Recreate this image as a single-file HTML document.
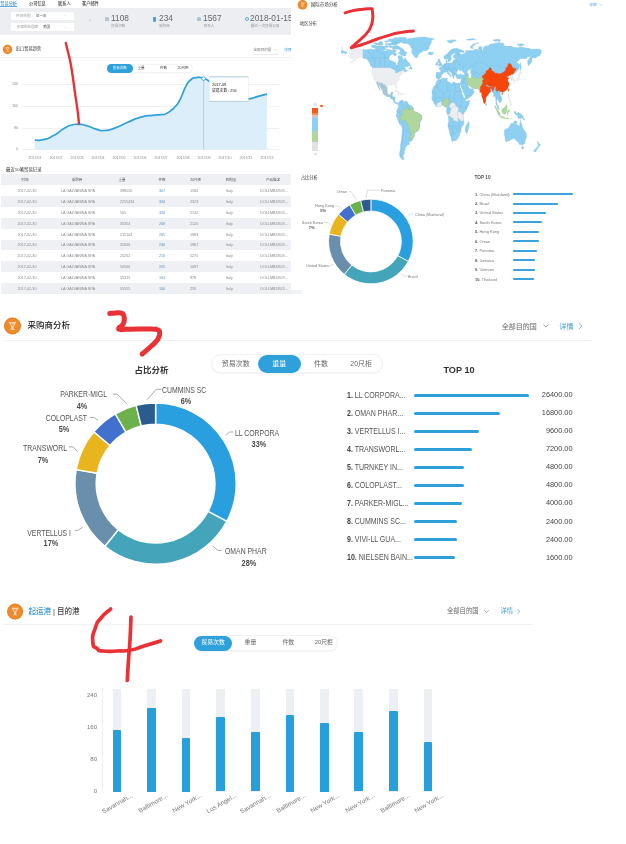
<!DOCTYPE html>
<html><head><meta charset="utf-8"><title>Trade analysis</title>
<style>
html,body{margin:0;padding:0;background:#fff;}
body{width:626px;height:844px;position:relative;overflow:hidden;font-family:'Liberation Sans','Noto Sans CJK SC',sans-serif;}
.t{position:absolute;white-space:nowrap;}
svg.ov{position:absolute;left:0;top:0;}
</style></head><body>
<div style="position:absolute;left:0.00px;top:6.20px;width:16.80px;height:1.00px;background:#5aaee0;"></div>
<div style="position:absolute;left:0.00px;top:7.60px;width:291.00px;height:27.00px;background:#eceef2;"></div>
<div style="position:absolute;left:11.20px;top:12.20px;width:62.60px;height:7.60px;background:#fff;"></div>
<div style="position:absolute;left:11.20px;top:23.40px;width:62.60px;height:7.60px;background:#fff;"></div>
<div style="position:absolute;left:104.50px;top:17.30px;width:4.50px;height:3.80px;background:#b8c4d0;border-radius:0.5px;"></div>
<div style="position:absolute;left:152.80px;top:16.60px;width:3.60px;height:5.00px;background:#3ea6dd;border-radius:0.6px 0.6px 1.8px 1.8px;"></div>
<div style="position:absolute;left:197.40px;top:16.80px;width:3.60px;height:4.40px;background:#a9c3d8;border-radius:1.8px 1.8px 0.5px 0.5px;"></div>
<div style="position:absolute;left:244.60px;top:16.50px;width:4.40px;height:4.40px;background:transparent;border:0.9px solid #5aaee0;border-radius:50%;box-sizing:border-box;"></div>
<div style="position:absolute;left:253.00px;top:53.80px;width:26.00px;height:0.50px;background:#ececec;"></div>
<div style="position:absolute;left:0.00px;top:57.20px;width:291.00px;height:0.60px;background:#eef0f3;"></div>
<div style="position:absolute;left:104.5px;top:63.6px;width:88px;height:9.6px;border-radius:5px;border:0.4px solid #f3f4f6;box-sizing:border-box;box-shadow:0 0.6px 0.8px rgba(0,0,0,0.06);"></div>
<div style="position:absolute;left:106.6px;top:64.2px;width:26.6px;height:8.5px;border-radius:4.3px;background:#2ea1db;"></div>
<div style="position:absolute;left:22.30px;top:84.00px;width:257.00px;height:0.60px;background:#f0f1f3;"></div>
<div style="position:absolute;left:22.30px;top:105.80px;width:257.00px;height:0.60px;background:#f0f1f3;"></div>
<div style="position:absolute;left:22.30px;top:127.60px;width:257.00px;height:0.60px;background:#f0f1f3;"></div>
<div style="position:absolute;left:22.30px;top:149.40px;width:257.00px;height:0.60px;background:#f0f1f3;"></div>
<div style="position:absolute;left:1.00px;top:174.40px;width:290.00px;height:10.80px;background:#eef0f4;"></div>
<div style="position:absolute;left:1.00px;top:196.07px;width:290.00px;height:10.87px;background:#eef0f4;"></div>
<div style="position:absolute;left:1.00px;top:217.81px;width:290.00px;height:10.87px;background:#eef0f4;"></div>
<div style="position:absolute;left:1.00px;top:239.55px;width:290.00px;height:10.87px;background:#eef0f4;"></div>
<div style="position:absolute;left:1.00px;top:261.29px;width:290.00px;height:10.87px;background:#eef0f4;"></div>
<div style="position:absolute;left:1.00px;top:283.03px;width:290.00px;height:10.87px;background:#eef0f4;"></div>
<div style="position:absolute;left:290.50px;top:289.60px;width:11.50px;height:4.40px;background:#f1f2f4;"></div>
<div style="position:absolute;left:312.00px;top:107.50px;width:6.20px;height:5.50px;background:#ef5a1e;"></div>
<div style="position:absolute;left:312.00px;top:113.00px;width:6.20px;height:1.50px;background:#f28a4a;"></div>
<div style="position:absolute;left:312.00px;top:114.50px;width:6.20px;height:3.50px;background:#c9c9cc;"></div>
<div style="position:absolute;left:312.00px;top:118.00px;width:6.20px;height:13.00px;background:#8ed0f1;"></div>
<div style="position:absolute;left:312.00px;top:131.00px;width:6.20px;height:10.50px;background:#afd79b;"></div>
<div style="position:absolute;left:312.00px;top:141.50px;width:6.20px;height:9.20px;background:#e2e2e5;"></div>
<div style="position:absolute;left:313.50px;top:102.50px;width:3.50px;height:3.00px;background:#dedede;border-radius:1px;"></div>
<div style="position:absolute;left:313.50px;top:152.50px;width:3.50px;height:2.50px;background:#dedede;border-radius:1px;"></div>
<div style="position:absolute;left:319.50px;top:105.00px;width:3.00px;height:2.00px;background:#ef5a1e;border-radius:1px;"></div>
<div style="position:absolute;left:512.50px;top:193.00px;width:60.20px;height:1.50px;background:#3aa3dc;border-radius:0.7px;"></div>
<div style="position:absolute;left:512.50px;top:203.00px;width:45.10px;height:1.50px;background:#3aa3dc;border-radius:0.7px;"></div>
<div style="position:absolute;left:512.50px;top:212.00px;width:33.70px;height:1.50px;background:#3aa3dc;border-radius:0.7px;"></div>
<div style="position:absolute;left:512.50px;top:221.00px;width:29.70px;height:1.50px;background:#3aa3dc;border-radius:0.7px;"></div>
<div style="position:absolute;left:512.50px;top:231.00px;width:26.30px;height:1.50px;background:#3aa3dc;border-radius:0.7px;"></div>
<div style="position:absolute;left:512.50px;top:240.00px;width:26.30px;height:1.50px;background:#3aa3dc;border-radius:0.7px;"></div>
<div style="position:absolute;left:512.50px;top:250.00px;width:24.90px;height:1.50px;background:#3aa3dc;border-radius:0.7px;"></div>
<div style="position:absolute;left:512.50px;top:259.00px;width:22.50px;height:1.50px;background:#3aa3dc;border-radius:0.7px;"></div>
<div style="position:absolute;left:512.50px;top:269.00px;width:22.50px;height:1.50px;background:#3aa3dc;border-radius:0.7px;"></div>
<div style="position:absolute;left:512.50px;top:278.00px;width:21.20px;height:1.50px;background:#3aa3dc;border-radius:0.7px;"></div>
<div style="position:absolute;left:3.00px;top:340.30px;width:588.00px;height:0.80px;background:#f0f1f4;"></div>
<div style="position:absolute;left:211px;top:353.7px;width:172px;height:19.6px;border-radius:10px;border:0.8px solid #f1f2f4;box-sizing:border-box;box-shadow:0 1px 1px rgba(0,0,0,0.05);"></div>
<div style="position:absolute;left:257.6px;top:354.5px;width:43px;height:18.4px;border-radius:9.2px;background:#2ea1db;"></div>
<div style="position:absolute;left:414.00px;top:393.50px;width:115.00px;height:3.00px;background:#2d9fd9;border-radius:1.5px;"></div>
<div style="position:absolute;left:414.00px;top:411.55px;width:86.00px;height:3.00px;background:#2d9fd9;border-radius:1.5px;"></div>
<div style="position:absolute;left:414.00px;top:429.60px;width:64.50px;height:3.00px;background:#2d9fd9;border-radius:1.5px;"></div>
<div style="position:absolute;left:414.00px;top:447.65px;width:57.50px;height:3.00px;background:#2d9fd9;border-radius:1.5px;"></div>
<div style="position:absolute;left:414.00px;top:465.70px;width:50.00px;height:3.00px;background:#2d9fd9;border-radius:1.5px;"></div>
<div style="position:absolute;left:414.00px;top:483.75px;width:50.00px;height:3.00px;background:#2d9fd9;border-radius:1.5px;"></div>
<div style="position:absolute;left:414.00px;top:501.80px;width:47.50px;height:3.00px;background:#2d9fd9;border-radius:1.5px;"></div>
<div style="position:absolute;left:414.00px;top:519.85px;width:43.00px;height:3.00px;background:#2d9fd9;border-radius:1.5px;"></div>
<div style="position:absolute;left:414.00px;top:537.90px;width:43.00px;height:3.00px;background:#2d9fd9;border-radius:1.5px;"></div>
<div style="position:absolute;left:414.00px;top:555.95px;width:41.00px;height:3.00px;background:#2d9fd9;border-radius:1.5px;"></div>
<div style="position:absolute;left:3.00px;top:624.30px;width:530.00px;height:0.80px;background:#f0f1f4;"></div>
<div style="position:absolute;left:194.4px;top:635.3px;width:144px;height:16.2px;border-radius:8px;border:0.8px solid #f1f2f4;box-sizing:border-box;box-shadow:0 1px 1px rgba(0,0,0,0.05);"></div>
<div style="position:absolute;left:194.4px;top:635.6px;width:37.4px;height:15.4px;border-radius:7.7px;background:#2ea1db;"></div>
<div style="position:absolute;left:102.00px;top:688.00px;width:0.60px;height:104.00px;background:#f0f0f0;"></div>
<div style="position:absolute;left:112.50px;top:689.00px;width:8.60px;height:102.50px;background:#eceff3;"></div>
<div style="position:absolute;left:112.50px;top:729.50px;width:8.60px;height:62.00px;background:#279fdb;border-radius:1px 1px 0 0;"></div>
<div style="position:absolute;left:147.30px;top:689.00px;width:8.60px;height:102.50px;background:#eceff3;"></div>
<div style="position:absolute;left:147.30px;top:708.00px;width:8.60px;height:83.50px;background:#279fdb;border-radius:1px 1px 0 0;"></div>
<div style="position:absolute;left:181.80px;top:689.00px;width:8.60px;height:102.50px;background:#eceff3;"></div>
<div style="position:absolute;left:181.80px;top:738.00px;width:8.60px;height:53.50px;background:#279fdb;border-radius:1px 1px 0 0;"></div>
<div style="position:absolute;left:216.30px;top:689.00px;width:8.60px;height:102.50px;background:#eceff3;"></div>
<div style="position:absolute;left:216.30px;top:717.40px;width:8.60px;height:74.10px;background:#279fdb;border-radius:1px 1px 0 0;"></div>
<div style="position:absolute;left:251.00px;top:689.00px;width:8.60px;height:102.50px;background:#eceff3;"></div>
<div style="position:absolute;left:251.00px;top:731.80px;width:8.60px;height:59.70px;background:#279fdb;border-radius:1px 1px 0 0;"></div>
<div style="position:absolute;left:285.60px;top:689.00px;width:8.60px;height:102.50px;background:#eceff3;"></div>
<div style="position:absolute;left:285.60px;top:714.50px;width:8.60px;height:77.00px;background:#279fdb;border-radius:1px 1px 0 0;"></div>
<div style="position:absolute;left:320.00px;top:689.00px;width:8.60px;height:102.50px;background:#eceff3;"></div>
<div style="position:absolute;left:320.00px;top:722.50px;width:8.60px;height:69.00px;background:#279fdb;border-radius:1px 1px 0 0;"></div>
<div style="position:absolute;left:354.20px;top:689.00px;width:8.60px;height:102.50px;background:#eceff3;"></div>
<div style="position:absolute;left:354.20px;top:731.80px;width:8.60px;height:59.70px;background:#279fdb;border-radius:1px 1px 0 0;"></div>
<div style="position:absolute;left:389.40px;top:689.00px;width:8.60px;height:102.50px;background:#eceff3;"></div>
<div style="position:absolute;left:389.40px;top:711.30px;width:8.60px;height:80.20px;background:#279fdb;border-radius:1px 1px 0 0;"></div>
<div style="position:absolute;left:423.60px;top:689.00px;width:8.60px;height:102.50px;background:#eceff3;"></div>
<div style="position:absolute;left:423.60px;top:741.70px;width:8.60px;height:49.80px;background:#279fdb;border-radius:1px 1px 0 0;"></div>
<svg class="ov" width="626" height="844" viewBox="0 0 626 844">
<polyline points="64,15.3 64.9,16.2 65.8,15.3" fill="none" stroke="#bbb" stroke-width="0.4"/>
<polyline points="64,26.6 64.9,27.5 65.8,26.6" fill="none" stroke="#bbb" stroke-width="0.4"/>
<circle cx="7.5" cy="49.4" r="4.7" fill="#ec8c2c"/>
<path d="M5.29,47.19 L9.71,47.19 L8.16,49.84 L8.16,51.06 L8.94,51.61 L6.06,51.61 L6.84,51.06 L6.84,49.84 Z" fill="#f9dcc0" opacity="0.9"/>
<path d="M6.28,47.96 L8.72,47.96 L7.50,49.51 Z" fill="#ef9a4a"/>
<circle cx="7.5" cy="49.4" r="4.37" fill="none" stroke="#e8632a" stroke-width="0.55" stroke-dasharray="0.66 0.88" opacity="0.7"/>
<polyline points="274.3,49.3 275.4,50.4 276.5,49.3" fill="none" stroke="#aaa" stroke-width="0.4"/>
<path d="M34.80,140.10 C37.53,139.97 36.87,141.13 43.00,139.70 C49.13,138.27 46.37,139.43 53.20,135.80 C60.03,132.17 57.53,132.33 63.50,128.80 C69.47,125.27 66.00,126.67 71.10,125.20 C76.20,123.73 73.67,124.27 78.80,124.40 C83.93,124.53 80.53,123.93 86.50,125.60 C92.47,127.27 90.77,127.77 96.70,129.40 C102.63,131.03 98.33,130.93 104.30,130.50 C110.27,130.07 106.93,130.77 114.60,128.10 C122.27,125.43 118.80,126.07 127.30,122.50 C135.80,118.93 131.57,119.80 140.10,117.40 C148.63,115.00 146.07,116.20 152.90,115.30 C159.73,114.40 155.90,115.40 160.60,114.70 C165.30,114.00 162.47,115.57 167.00,113.20 C171.53,110.83 170.20,111.50 174.20,107.60 C178.20,103.70 176.23,106.03 179.00,101.50 C181.77,96.97 180.27,98.97 182.50,94.00 C184.73,89.03 183.03,91.27 185.70,86.60 C188.37,81.93 187.00,83.00 190.50,80.00 C194.00,77.00 192.70,78.40 196.20,77.60 C199.70,76.80 198.53,77.27 201.00,77.60 C203.47,77.93 201.20,77.63 203.60,78.60 C206.00,79.57 204.40,77.70 208.20,80.50 C212.00,83.30 209.40,82.00 215.00,87.00 C220.60,92.00 218.33,91.40 225.00,95.50 C231.67,99.60 227.23,98.17 235.00,99.30 C242.77,100.43 240.63,99.87 248.30,98.90 C255.97,97.93 251.77,98.00 258.00,96.40 C264.23,94.80 264.00,94.87 267.00,94.10 L266.90,149.7 L34.80,149.7 Z" fill="#dbeef9"/>
<line x1="203.6" y1="79" x2="203.6" y2="149.7" stroke="#9fd0ee" stroke-width="0.9"/>
<path d="M34.80,140.10 C37.53,139.97 36.87,141.13 43.00,139.70 C49.13,138.27 46.37,139.43 53.20,135.80 C60.03,132.17 57.53,132.33 63.50,128.80 C69.47,125.27 66.00,126.67 71.10,125.20 C76.20,123.73 73.67,124.27 78.80,124.40 C83.93,124.53 80.53,123.93 86.50,125.60 C92.47,127.27 90.77,127.77 96.70,129.40 C102.63,131.03 98.33,130.93 104.30,130.50 C110.27,130.07 106.93,130.77 114.60,128.10 C122.27,125.43 118.80,126.07 127.30,122.50 C135.80,118.93 131.57,119.80 140.10,117.40 C148.63,115.00 146.07,116.20 152.90,115.30 C159.73,114.40 155.90,115.40 160.60,114.70 C165.30,114.00 162.47,115.57 167.00,113.20 C171.53,110.83 170.20,111.50 174.20,107.60 C178.20,103.70 176.23,106.03 179.00,101.50 C181.77,96.97 180.27,98.97 182.50,94.00 C184.73,89.03 183.03,91.27 185.70,86.60 C188.37,81.93 187.00,83.00 190.50,80.00 C194.00,77.00 192.70,78.40 196.20,77.60 C199.70,76.80 198.53,77.27 201.00,77.60 C203.47,77.93 201.20,77.63 203.60,78.60 C206.00,79.57 204.40,77.70 208.20,80.50 C212.00,83.30 209.40,82.00 215.00,87.00 C220.60,92.00 218.33,91.40 225.00,95.50 C231.67,99.60 227.23,98.17 235.00,99.30 C242.77,100.43 240.63,99.87 248.30,98.90 C255.97,97.93 251.77,98.00 258.00,96.40 C264.23,94.80 264.00,94.87 267.00,94.10" fill="none" stroke="#2ea1db" stroke-width="1.7"/>
<circle cx="203.6" cy="78.6" r="1.8" fill="#fff" stroke="#2ea1db" stroke-width="0.8"/>
<rect x="209.4" y="76.6" width="38.8" height="25.0" fill="#fff" stroke="#dbe7ef" stroke-width="0.5"/>
<line x1="209.2" y1="76.9" x2="248.4" y2="76.9" stroke="#a9cbe0" stroke-width="0.9"/>
<line x1="209.2" y1="101.4" x2="248.4" y2="101.4" stroke="#b5cad8" stroke-width="0.9"/>
<circle cx="302.5" cy="4.8" r="4.8" fill="#ec8c2c"/>
<path d="M300.24,2.54 L304.76,2.54 L303.18,5.25 L303.18,6.49 L303.97,7.06 L301.03,7.06 L301.82,6.49 L301.82,5.25 Z" fill="#f9dcc0" opacity="0.9"/>
<path d="M301.26,3.33 L303.74,3.33 L302.50,4.91 Z" fill="#ef9a4a"/>
<circle cx="302.5" cy="4.8" r="4.46" fill="none" stroke="#e8632a" stroke-width="0.56" stroke-dasharray="0.68 0.90" opacity="0.7"/>
<polyline points="600.3,3.9 601.4,5.0 600.3,6.1" fill="none" stroke="#8cc3e8" stroke-width="0.5"/>
<path d="M372.09,68.11 L373.15,67.58 L388.46,67.58 L388.69,67.23 L391.57,68.46 L394.40,69.79 L395.51,70.85 L395.57,72.87 L397.45,72.61 L398.84,71.82 L399.68,71.11 L401.62,71.11 L402.45,69.61 L402.89,68.99 L403.67,69.26 L403.67,70.49 L404.12,71.29 L402.45,72.26 L402.12,73.14 L402.45,73.93 L401.62,74.29 L400.29,74.99 L400.12,75.96 L399.40,76.84 L399.12,78.17 L399.40,79.49 L398.84,80.19 L397.73,80.99 L396.46,82.58 L396.07,83.90 L396.62,85.66 L396.90,87.43 L396.68,88.57 L396.23,88.49 L395.79,87.43 L395.40,86.10 L395.35,85.05 L394.68,84.34 L393.85,84.52 L393.29,83.99 L392.18,83.99 L391.63,84.16 L391.68,85.05 L391.07,85.13 L389.96,84.69 L389.13,84.60 L388.57,85.05 L387.47,86.28 L387.35,87.87 L386.36,87.43 L385.52,85.66 L384.97,84.52 L384.13,85.22 L383.30,84.69 L382.19,82.75 L381.25,83.19 L379.69,83.19 L377.59,82.13 L376.31,82.13 L375.53,80.81 L374.37,80.28 L373.65,78.61 L373.31,77.46 L372.59,75.70 L372.37,73.84 L372.20,72.87 L372.48,69.96 Z" fill="#edeef1" stroke="#d3d5da" stroke-width="0.3" stroke-linejoin="round"/>
<path d="M363.05,49.41 L359.16,48.80 L354.28,47.91 L351.39,48.88 L349.06,50.03 L350.45,51.44 L351.39,52.50 L348.89,52.94 L349.73,53.91 L351.94,53.91 L350.56,55.15 L349.73,55.67 L349.28,57.17 L351.39,58.06 L353.61,59.03 L354.17,60.08 L351.94,61.58 L350.00,62.64 L353.06,61.85 L355.27,60.08 L356.11,58.67 L357.22,58.32 L357.22,57.26 L358.61,57.88 L360.27,57.35 L361.94,57.88 L363.88,58.14 L364.99,58.94 L365.54,59.56 L366.93,59.56 L368.32,61.85 L369.15,61.67 L369.09,61.32 L368.04,60.53 L367.21,59.20 L366.10,58.06 L364.99,58.59 L364.15,57.88 L363.05,57.62 Z" fill="#edeef1" stroke="#d3d5da" stroke-width="0.3" stroke-linejoin="round"/>
<path d="M363.05,49.41 L365.82,50.03 L368.04,49.41 L370.26,48.88 L372.48,49.59 L374.70,49.59 L378.03,50.56 L381.36,50.65 L383.58,50.82 L386.91,51.00 L388.02,50.56 L388.85,49.50 L390.24,49.94 L391.91,50.38 L393.85,49.50 L395.79,50.38 L396.07,51.71 L393.68,52.15 L393.01,53.91 L391.07,54.79 L389.41,56.56 L388.80,58.76 L389.96,60.53 L392.18,60.97 L394.12,62.11 L395.62,62.20 L395.68,64.05 L396.62,65.55 L397.34,65.29 L397.57,63.17 L398.68,60.97 L398.68,59.20 L397.95,57.17 L398.29,55.76 L400.79,55.85 L402.45,57.00 L402.73,58.94 L403.84,59.38 L405.23,57.70 L405.78,59.20 L406.89,60.53 L407.72,61.85 L409.39,62.91 L410.33,64.67 L409.61,65.47 L408.00,66.52 L405.78,66.52 L404.39,67.05 L403.28,67.85 L402.12,69.17 L403.00,68.29 L405.23,67.41 L405.61,68.02 L404.95,68.64 L405.45,69.70 L406.89,70.40 L407.44,70.85 L408.00,70.32 L406.06,71.55 L404.78,72.34 L404.56,71.46 L405.50,70.85 L404.56,70.93 L403.67,70.49 L403.67,69.26 L402.89,68.99 L402.45,69.61 L401.62,71.11 L399.68,71.11 L398.84,71.82 L397.34,72.43 L397.45,72.61 L395.57,72.87 L395.51,70.85 L394.40,69.79 L391.57,68.46 L388.69,67.23 L388.46,67.58 L373.15,67.58 L372.76,68.11 L371.93,66.70 L370.54,65.82 L370.26,64.50 L369.15,62.55 L369.15,61.67 L369.09,61.32 L368.04,60.53 L367.21,59.20 L366.10,58.06 L364.99,58.59 L364.15,57.88 L363.05,57.62 Z" fill="#8ed0f1" stroke="#77b6d9" stroke-width="0.3" stroke-linejoin="round"/>
<path d="M408.39,68.82 L410.22,66.96 L410.50,65.29 L411.61,67.23 L412.05,68.91 L411.61,69.61 L410.22,68.82 Z" fill="#8ed0f1" stroke="#77b6d9" stroke-width="0.3" stroke-linejoin="round"/>
<path d="M405.50,55.67 L404.67,56.12 L401.89,55.41 L399.95,53.91 L398.29,53.29 L400.79,50.65 L398.56,49.24 L395.79,49.24 L394.12,49.15 L391.63,48.18 L391.35,46.85 L393.85,45.97 L396.62,45.80 L399.12,46.85 L401.62,48.18 L403.84,49.50 L404.39,51.71 L406.89,52.06 Z" fill="#8ed0f1" stroke="#77b6d9" stroke-width="0.3" stroke-linejoin="round"/>
<path d="M399.68,43.33 L396.90,43.59 L391.91,43.33 L391.35,41.12 L395.79,39.36 L402.45,37.77 L406.89,38.03 L405.23,39.80 L401.89,41.12 Z" fill="#8ed0f1" stroke="#77b6d9" stroke-width="0.3" stroke-linejoin="round"/>
<path d="M385.25,49.50 L382.47,50.12 L378.03,50.38 L376.09,49.68 L375.25,47.74 L376.92,46.59 L380.25,46.06 L382.47,46.24 L384.69,47.30 Z" fill="#8ed0f1" stroke="#77b6d9" stroke-width="0.3" stroke-linejoin="round"/>
<path d="M374.81,47.74 L371.93,47.38 L371.48,45.36 L374.14,45.09 L377.20,45.97 Z" fill="#8ed0f1" stroke="#77b6d9" stroke-width="0.3" stroke-linejoin="round"/>
<path d="M396.90,45.09 L390.24,45.09 L388.02,43.77 L392.46,43.06 L396.90,43.59 Z" fill="#8ed0f1" stroke="#77b6d9" stroke-width="0.3" stroke-linejoin="round"/>
<path d="M393.57,40.68 L390.80,41.74 L387.47,40.68 L389.13,39.09 L392.46,39.53 Z" fill="#8ed0f1" stroke="#77b6d9" stroke-width="0.3" stroke-linejoin="round"/>
<path d="M383.02,44.21 L380.25,45.09 L375.81,44.21 L377.48,43.33 L381.36,43.33 Z" fill="#8ed0f1" stroke="#77b6d9" stroke-width="0.3" stroke-linejoin="round"/>
<path d="M388.02,47.30 L386.36,47.74 L384.69,46.85 L385.25,45.71 L387.47,45.53 Z" fill="#8ed0f1" stroke="#77b6d9" stroke-width="0.3" stroke-linejoin="round"/>
<path d="M391.35,47.30 L389.13,47.30 L388.30,45.97 L390.24,45.53 L391.35,45.97 Z" fill="#8ed0f1" stroke="#77b6d9" stroke-width="0.3" stroke-linejoin="round"/>
<path d="M396.90,54.53 L395.24,55.94 L393.29,54.79 L393.57,53.03 L395.24,52.59 L396.35,53.65 Z" fill="#8ed0f1" stroke="#77b6d9" stroke-width="0.3" stroke-linejoin="round"/>
<path d="M377.20,43.59 L375.81,44.21 L373.31,43.50 L374.70,42.62 L376.37,42.89 Z" fill="#8ed0f1" stroke="#77b6d9" stroke-width="0.3" stroke-linejoin="round"/>
<path d="M387.47,44.65 L385.52,44.39 L385.25,43.42 L386.91,43.24 L387.74,43.77 Z" fill="#8ed0f1" stroke="#77b6d9" stroke-width="0.3" stroke-linejoin="round"/>
<path d="M389.69,45.00 L388.02,44.74 L388.02,44.12 L389.41,44.12 Z" fill="#8ed0f1" stroke="#77b6d9" stroke-width="0.3" stroke-linejoin="round"/>
<path d="M388.57,50.38 L386.08,50.12 L386.36,49.32 L388.02,49.15 Z" fill="#8ed0f1" stroke="#77b6d9" stroke-width="0.3" stroke-linejoin="round"/>
<path d="M383.02,42.44 L380.25,42.89 L378.59,42.00 L381.36,41.47 Z" fill="#8ed0f1" stroke="#77b6d9" stroke-width="0.3" stroke-linejoin="round"/>
<path d="M388.02,42.18 L385.80,42.00 L384.13,41.30 L386.36,40.68 L387.74,41.30 Z" fill="#8ed0f1" stroke="#77b6d9" stroke-width="0.3" stroke-linejoin="round"/>
<path d="M385.25,49.50 L383.02,50.21 L378.59,50.47 L376.09,49.77 L375.25,48.80 L375.81,47.74 L376.37,46.68 L378.59,46.33 L381.36,46.24 L383.02,46.06 L384.69,46.85 L385.52,48.53 Z" fill="#8ed0f1" stroke="#77b6d9" stroke-width="0.3" stroke-linejoin="round"/>
<path d="M398.56,46.85 L396.62,46.59 L396.35,45.80 L398.29,45.88 Z" fill="#8ed0f1" stroke="#77b6d9" stroke-width="0.3" stroke-linejoin="round"/>
<path d="M383.02,44.39 L380.81,45.00 L378.03,44.83 L376.09,44.21 L377.20,43.42 L380.25,43.15 L382.47,43.68 Z" fill="#8ed0f1" stroke="#77b6d9" stroke-width="0.3" stroke-linejoin="round"/>
<path d="M406.89,38.21 L401.34,37.59 L395.79,37.77 L390.80,39.18 L391.35,40.42 L393.57,41.56 L396.90,42.44 L398.01,43.33 L395.79,43.59 L391.63,43.33 L393.01,42.62 L396.90,41.30 L400.23,40.68 L403.56,39.53 Z" fill="#8ed0f1" stroke="#77b6d9" stroke-width="0.3" stroke-linejoin="round"/>
<path d="M417.16,58.06 L414.66,57.00 L413.55,55.23 L412.72,53.91 L411.61,52.15 L411.61,50.38 L413.00,49.06 L411.05,48.35 L410.78,46.85 L409.11,44.21 L406.89,43.59 L403.56,43.50 L400.79,42.00 L404.67,40.24 L408.00,38.65 L413.55,38.03 L419.10,37.24 L424.65,37.06 L430.20,38.03 L434.64,38.92 L431.31,40.24 L431.31,42.89 L430.20,44.65 L429.09,46.85 L429.09,48.62 L426.87,50.38 L423.54,50.82 L420.76,52.85 L419.10,53.47 L417.99,55.67 Z" fill="#8ed0f1" stroke="#77b6d9" stroke-width="0.3" stroke-linejoin="round"/>
<path d="M427.98,53.03 L429.09,52.24 L432.42,52.15 L433.81,53.29 L432.98,54.09 L431.31,54.88 L428.81,54.53 Z" fill="#8ed0f1" stroke="#77b6d9" stroke-width="0.3" stroke-linejoin="round"/>
<path d="M376.31,82.13 L377.59,82.13 L379.69,83.19 L381.25,83.19 L382.19,82.75 L383.30,84.69 L384.13,85.22 L384.97,84.52 L385.52,85.66 L386.36,87.43 L387.35,87.87 L387.08,89.63 L387.02,91.13 L387.35,92.72 L388.02,94.04 L388.85,94.75 L390.24,94.39 L390.80,93.87 L391.18,92.28 L393.01,91.84 L392.74,93.60 L392.29,94.48 L391.85,95.01 L390.57,95.63 L391.13,96.60 L390.13,97.31 L389.13,96.60 L387.74,96.95 L386.63,96.42 L385.25,95.36 L383.86,94.66 L382.75,92.72 L382.86,91.57 L382.19,90.25 L381.08,88.31 L379.97,86.28 L379.03,84.78 L378.47,83.28 L377.64,82.75 L378.31,84.78 L378.70,86.10 L379.42,87.87 L379.97,89.46 L380.31,90.60 L379.08,88.93 L377.92,86.46 L377.20,84.69 L376.53,83.02 Z" fill="#a6c8d6" stroke="#8fb2c2" stroke-width="0.3" stroke-linejoin="round"/>
<path d="M390.13,97.31 L391.13,96.60 L390.57,95.63 L391.85,95.01 L392.29,94.48 L392.35,96.25 L391.96,96.78 L392.74,96.78 L394.68,96.86 L395.12,97.57 L394.90,100.39 L394.90,101.19 L395.51,102.42 L396.07,102.86 L397.18,102.33 L398.29,103.21 L398.45,103.83 L398.01,104.36 L397.79,103.57 L396.90,104.36 L396.62,103.66 L395.79,103.57 L394.90,103.30 L393.74,102.07 L393.68,101.01 L392.74,99.42 L391.63,98.89 L390.52,98.45 Z" fill="#8ed0f1" stroke="#77b6d9" stroke-width="0.3" stroke-linejoin="round"/>
<path d="M394.18,91.48 L395.79,90.34 L396.90,90.43 L398.56,91.66 L400.12,92.98 L398.18,93.25 L397.73,91.84 L396.35,91.66 Z" fill="#edeef1" stroke="#d3d5da" stroke-width="0.3" stroke-linejoin="round"/>
<path d="M400.01,94.48 L400.90,93.25 L402.45,93.34 L403.34,94.39 L402.45,94.75 L401.62,95.28 Z" fill="#edeef1" stroke="#d3d5da" stroke-width="0.3" stroke-linejoin="round"/>
<path d="M397.84,94.57 L399.01,94.75 L398.68,95.10 Z" fill="#8ed0f1" stroke="#77b6d9" stroke-width="0.3" stroke-linejoin="round"/>
<path d="M398.34,103.13 L399.12,102.33 L399.40,101.36 L400.23,100.83 L401.23,100.30 L401.73,100.39 L402.45,100.04 L403.56,101.45 L404.67,101.45 L405.78,101.36 L406.95,101.36 L407.44,101.80 L408.00,103.30 L408.83,104.36 L409.67,105.51 L410.78,105.51 L411.88,105.95 L412.72,107.10 L413.55,109.21 L413.27,110.80 L414.38,111.68 L416.32,112.12 L418.27,113.36 L419.93,114.06 L421.76,115.65 L421.99,117.41 L421.60,119.18 L420.76,120.50 L419.77,122.27 L419.66,126.23 L419.27,128.00 L418.55,130.20 L417.99,131.09 L416.60,131.35 L415.22,132.41 L414.38,133.73 L414.33,135.94 L413.27,137.70 L412.16,139.91 L411.61,140.79 L410.78,141.67 L409.67,141.23 L408.89,140.96 L409.39,142.55 L409.39,144.49 L406.89,145.20 L406.72,146.52 L405.23,146.96 L405.50,148.28 L404.95,150.49 L403.84,151.81 L404.67,153.14 L403.39,155.08 L403.00,156.66 L403.39,157.55 L404.39,159.31 L403.28,159.75 L401.89,159.31 L399.95,157.10 L399.40,153.58 L399.95,151.37 L400.51,148.73 L400.40,146.08 L400.67,143.88 L401.56,139.91 L401.67,137.26 L402.17,132.85 L402.34,128.44 L402.28,126.94 L401.62,126.06 L399.56,124.29 L398.90,122.71 L398.12,120.50 L397.18,117.86 L396.23,115.92 L396.18,114.50 L396.73,113.80 L397.01,112.56 L396.40,111.68 L396.90,110.01 L397.45,109.48 L397.68,108.59 L398.29,107.45 L398.34,105.51 L398.07,104.45 L398.45,103.83 Z" fill="#8ed0f1" stroke="#77b6d9" stroke-width="0.3" stroke-linejoin="round"/>
<path d="M400.29,117.33 L400.84,119.09 L402.12,120.50 L402.73,120.41 L403.17,120.59 L405.00,120.06 L405.23,121.38 L406.06,121.83 L407.00,122.71 L407.78,123.85 L407.89,125.18 L408.89,125.18 L409.11,126.23 L409.33,126.85 L409.00,128.35 L409.17,130.29 L410.39,130.82 L410.50,131.97 L411.00,133.38 L411.39,134.70 L410.39,135.76 L409.33,137.44 L410.22,138.05 L411.61,140.52 L412.16,139.91 L413.27,137.70 L414.33,135.94 L414.38,133.73 L415.22,132.41 L416.60,131.35 L417.99,131.09 L418.55,130.20 L419.27,128.00 L419.66,126.23 L419.77,122.27 L420.76,120.50 L421.60,119.18 L421.99,117.41 L421.76,115.65 L419.93,114.06 L418.27,113.36 L416.32,112.12 L414.38,111.68 L413.27,110.80 L413.55,109.21 L412.72,107.10 L411.94,108.86 L411.05,108.77 L409.94,109.12 L408.72,109.74 L408.11,109.21 L408.00,108.59 L408.11,107.10 L407.61,106.21 L406.89,107.10 L406.34,107.36 L405.50,107.18 L405.78,108.59 L406.11,108.86 L405.56,109.57 L404.23,109.74 L403.95,109.04 L402.78,109.83 L402.73,110.98 L402.45,111.24 L402.45,114.50 L400.84,115.30 Z" fill="#afd79b" stroke="#95c183" stroke-width="0.3" stroke-linejoin="round"/>
<path d="M438.03,79.22 L440.19,79.84 L441.86,78.61 L443.24,78.34 L446.07,78.25 L447.02,77.90 L447.46,78.34 L446.96,79.67 L447.52,81.52 L448.29,81.87 L449.74,82.31 L451.57,84.08 L452.40,83.55 L452.46,82.31 L454.01,81.96 L455.23,82.93 L457.40,83.55 L458.50,82.93 L459.23,83.19 L460.28,83.19 L460.67,84.78 L459.39,84.43 L459.95,86.55 L461.00,89.63 L461.95,92.28 L462.11,94.39 L462.72,95.01 L463.11,96.78 L464.17,98.01 L465.33,99.86 L465.33,100.30 L466.05,101.63 L467.38,101.01 L469.66,100.30 L469.61,101.63 L468.77,104.80 L467.94,106.83 L466.83,109.04 L465.44,111.24 L464.33,112.39 L463.50,113.89 L463.06,115.21 L463.22,116.97 L463.11,118.30 L463.78,120.06 L463.83,123.59 L463.22,125.35 L461.84,126.50 L460.89,129.76 L461.00,131.97 L459.56,133.73 L459.34,135.94 L458.50,137.08 L457.12,139.47 L455.56,140.79 L453.79,140.79 L452.40,141.49 L451.51,140.88 L451.46,139.47 L450.85,136.38 L449.90,134.61 L449.35,131.00 L448.24,127.56 L447.85,126.06 L448.13,123.15 L448.85,121.38 L448.68,119.18 L448.13,116.18 L448.13,115.21 L447.46,114.15 L446.46,111.68 L446.57,109.92 L446.74,108.24 L446.57,107.36 L446.13,106.83 L445.19,106.92 L444.35,106.57 L443.69,105.24 L442.41,105.24 L441.02,106.13 L440.19,106.65 L439.08,106.21 L437.14,106.92 L436.19,106.21 L434.97,104.80 L433.97,103.30 L433.70,102.42 L432.98,101.19 L432.03,99.86 L431.70,97.83 L432.14,96.51 L432.31,93.95 L431.87,92.28 L432.42,89.90 L433.25,87.69 L434.09,86.28 L434.92,85.84 L435.86,84.69 L435.97,82.58 L436.58,81.34 L437.53,80.72 Z" fill="#8ed0f1" stroke="#77b6d9" stroke-width="0.3" stroke-linejoin="round"/>
<path d="M449.35,105.95 L450.18,104.19 L451.85,102.86 L453.51,102.42 L454.62,103.30 L455.73,105.07 L456.56,106.39 L458.23,107.45 L458.50,109.04 L457.95,111.68 L458.50,111.68 L460.11,111.68 L462.11,113.89 L463.06,115.21 L463.22,116.97 L463.11,118.30 L463.78,120.06 L462.39,120.94 L460.73,120.94 L459.89,119.18 L458.50,118.56 L457.40,117.86 L457.95,119.62 L457.67,121.83 L456.84,121.83 L456.29,121.12 L454.90,120.50 L453.51,120.50 L453.23,117.86 L451.85,117.86 L451.01,117.59 L450.46,116.09 L448.51,116.09 L448.13,115.21 L448.79,114.33 L450.18,113.45 L450.74,110.80 L451.01,108.15 L450.18,107.71 L449.62,107.27 Z" fill="#edeef1" stroke="#d3d5da" stroke-width="0.3" stroke-linejoin="round"/>
<path d="M436.58,104.19 L437.97,102.42 L439.63,102.16 L441.30,101.10 L441.58,104.63 L442.13,105.33 L441.02,106.13 L440.19,106.65 L439.08,106.21 L437.14,106.92 L436.58,105.95 Z" fill="#edeef1" stroke="#d3d5da" stroke-width="0.3" stroke-linejoin="round"/>
<path d="M442.80,105.16 L442.80,102.86 L443.30,101.54 L443.30,100.48 L443.63,98.89 L444.91,98.89 L446.30,99.51 L447.41,99.07 L448.24,98.80 L449.07,99.77 L449.35,101.10 L448.79,102.86 L447.96,104.45 L447.41,105.07 L446.74,106.39 L446.13,106.83 L445.19,106.92 L444.35,106.57 L443.69,105.24 Z" fill="#afd79b" stroke="#95c183" stroke-width="0.3" stroke-linejoin="round"/>
<path d="M468.66,121.38 L469.27,124.47 L468.77,126.23 L468.22,129.32 L467.44,132.67 L466.39,133.29 L465.55,131.53 L465.33,129.76 L465.89,127.12 L465.72,125.79 L467.00,124.74 L467.94,122.71 Z" fill="#8ed0f1" stroke="#77b6d9" stroke-width="0.3" stroke-linejoin="round"/>
<path d="M438.19,79.05 L436.31,78.17 L436.03,76.40 L436.42,73.76 L436.14,72.70 L436.86,72.26 L439.08,72.52 L440.30,72.52 L440.63,71.37 L440.63,70.05 L440.08,69.26 L438.80,68.55 L438.80,67.93 L440.47,67.85 L440.47,66.96 L441.41,66.96 L442.19,65.91 L442.97,65.55 L443.63,64.94 L443.96,63.97 L445.19,63.61 L446.02,63.52 L446.07,61.85 L445.80,60.88 L447.13,59.91 L447.18,61.23 L446.85,62.29 L447.57,63.00 L448.51,63.00 L449.24,63.26 L450.46,62.73 L451.85,62.82 L452.96,62.03 L453.01,60.70 L454.34,60.44 L454.84,59.29 L454.34,58.59 L456.84,58.32 L458.06,57.97 L457.40,57.62 L456.23,57.44 L454.01,57.97 L453.18,57.00 L453.23,55.67 L455.18,53.47 L455.34,53.03 L453.79,52.76 L453.12,53.91 L451.85,54.79 L451.01,55.85 L450.96,57.35 L451.73,58.32 L450.46,60.08 L450.35,60.97 L449.35,61.41 L448.40,61.94 L448.29,61.23 L447.85,59.47 L447.18,58.41 L445.74,59.56 L444.46,59.11 L444.07,57.88 L444.07,56.12 L445.74,54.79 L447.13,53.91 L448.24,52.59 L449.35,51.26 L450.18,50.38 L451.85,49.24 L454.34,48.62 L456.84,48.18 L458.50,48.88 L459.62,49.59 L461.28,49.85 L463.78,51.09 L464.17,52.15 L462.39,52.59 L460.61,51.88 L459.34,52.15 L460.45,53.91 L461.84,54.53 L463.50,53.91 L465.72,52.50 L465.72,50.47 L466.83,50.65 L470.99,50.38 L472.10,50.47 L473.93,49.94 L474.88,49.24 L477.10,49.59 L479.32,50.74 L478.49,49.50 L478.37,48.35 L479.32,46.59 L480.98,46.41 L482.09,47.47 L481.70,48.71 L482.09,50.38 L482.93,49.94 L483.76,47.03 L485.98,45.97 L489.31,45.62 L489.59,44.56 L492.92,43.77 L496.80,42.89 L499.19,42.27 L500.41,42.97 L503.46,43.33 L504.29,44.21 L503.46,45.71 L507.35,46.33 L511.23,45.97 L512.89,46.94 L514.56,47.47 L518.45,47.74 L519.83,46.68 L524.55,47.74 L525.66,48.35 L529.55,48.27 L530.38,49.32 L534.43,49.24 L535.93,48.97 L538.98,49.15 L541.20,50.03 L541.20,53.47 L540.48,53.82 L539.70,55.67 L537.32,56.47 L535.82,57.88 L533.43,57.70 L532.04,58.06 L531.76,59.64 L531.99,61.23 L531.21,62.47 L530.10,63.88 L529.27,64.50 L528.27,65.82 L527.88,64.05 L527.60,61.85 L527.82,60.08 L528.44,59.73 L530.10,57.44 L529.55,56.38 L527.88,56.56 L526.77,58.14 L525.27,58.67 L522.05,58.41 L520.22,58.76 L517.89,60.97 L516.34,62.47 L517.61,63.17 L519.28,63.88 L519.78,64.76 L519.22,66.61 L519.28,68.02 L518.17,69.70 L516.50,72.08 L515.12,73.05 L513.84,73.49 L513.17,74.81 L512.06,75.96 L513.12,78.17 L513.06,79.75 L511.51,80.46 L511.40,78.34 L511.29,77.55 L510.68,77.28 L510.51,75.70 L508.79,74.81 L508.46,76.40 L506.79,76.23 L506.57,76.84 L507.29,77.81 L509.29,77.99 L508.18,79.05 L507.46,80.11 L508.40,81.96 L508.95,82.93 L508.95,84.08 L508.73,85.66 L507.62,88.31 L506.24,89.98 L504.68,91.13 L502.91,91.93 L502.52,92.81 L502.24,91.84 L501.24,91.84 L500.52,92.54 L499.96,94.04 L500.46,95.36 L501.68,97.13 L501.96,100.22 L501.13,101.27 L500.13,102.60 L499.46,103.21 L499.58,101.98 L498.74,101.45 L498.24,100.04 L497.30,99.51 L496.86,98.89 L496.36,100.04 L496.41,102.16 L496.97,103.48 L497.08,104.63 L498.02,105.33 L498.69,106.57 L498.74,108.33 L499.13,109.57 L498.74,109.65 L497.52,108.24 L496.97,106.04 L495.86,103.57 L495.97,101.54 L495.52,96.69 L495.25,95.89 L494.25,96.86 L493.64,96.69 L493.75,93.87 L492.58,92.54 L492.36,91.48 L491.53,91.04 L490.58,91.75 L489.59,92.01 L489.31,93.16 L488.36,93.95 L486.98,96.16 L485.87,97.13 L485.81,99.33 L485.64,101.72 L484.31,103.66 L483.70,102.42 L483.20,100.22 L482.65,98.01 L482.09,96.69 L481.70,94.04 L481.65,92.28 L481.54,91.57 L480.43,92.45 L479.60,91.13 L480.32,90.60 L479.32,90.07 L478.65,89.10 L478.21,88.40 L476.82,88.49 L475.49,88.57 L473.77,88.22 L473.10,87.96 L472.66,86.90 L471.55,87.34 L470.16,86.37 L469.38,85.05 L468.27,84.34 L467.94,84.78 L468.22,86.10 L469.05,87.43 L469.44,88.93 L469.88,89.54 L469.94,87.96 L470.44,89.46 L471.55,89.37 L472.38,87.87 L472.60,88.84 L473.21,89.81 L474.49,90.95 L473.77,92.72 L473.32,94.04 L472.10,95.36 L470.27,97.04 L468.33,98.45 L466.28,99.51 L465.44,99.60 L465.05,97.57 L464.94,96.07 L464.06,93.60 L462.94,91.84 L462.67,90.07 L461.84,88.31 L460.84,86.10 L460.67,84.78 L460.28,83.19 L460.73,81.87 L461.22,80.37 L461.28,79.22 L461.39,78.52 L460.45,78.34 L459.34,78.96 L458.28,78.43 L456.95,78.43 L456.45,77.72 L456.01,76.84 L455.84,75.96 L456.06,75.26 L455.73,74.81 L454.62,74.90 L454.45,75.61 L453.84,75.26 L454.01,76.05 L454.06,77.28 L453.79,78.61 L453.34,78.34 L453.01,77.02 L452.51,75.87 L452.07,73.93 L451.57,73.31 L450.74,72.61 L449.74,71.73 L448.96,71.20 L448.90,70.58 L448.13,70.85 L448.07,71.46 L448.85,72.34 L449.35,73.58 L450.18,74.29 L451.57,75.34 L450.57,75.78 L450.79,76.40 L450.24,77.28 L450.01,75.52 L449.29,74.99 L448.24,74.11 L447.46,73.40 L446.96,72.08 L446.13,71.64 L445.46,72.17 L444.63,72.79 L443.80,72.52 L443.02,72.79 L443.08,73.84 L441.74,74.64 L441.30,75.96 L440.91,77.64 L440.13,78.43 L438.86,78.43 Z" fill="#8ed0f1" stroke="#77b6d9" stroke-width="0.3" stroke-linejoin="round"/>
<path d="M341.40,50.03 L344.18,51.26 L346.12,51.88 L347.06,52.59 L345.56,54.00 L344.18,53.03 L342.79,53.21 L341.40,53.47 Z" fill="#8ed0f1" stroke="#77b6d9" stroke-width="0.3" stroke-linejoin="round"/>
<path d="M510.34,75.43 L511.23,74.20 L512.45,74.20 L513.28,73.40 L513.84,73.49 L513.17,74.81 L512.06,75.96 L513.12,78.17 L513.06,79.75 L511.51,80.46 L511.40,78.34 L511.29,77.55 L510.68,77.28 L510.51,75.70 Z" fill="#edeef1" stroke="#d3d5da" stroke-width="0.3" stroke-linejoin="round"/>
<path d="M456.56,73.31 L456.84,72.43 L457.23,71.55 L457.78,70.85 L458.23,69.79 L458.89,69.70 L459.89,70.23 L459.34,70.76 L459.89,71.55 L461.00,71.11 L461.56,70.85 L462.11,71.11 L462.67,71.73 L463.50,72.52 L464.39,74.20 L463.50,74.64 L462.39,74.73 L461.28,74.02 L460.17,73.76 L458.50,74.46 L457.40,74.55 Z" fill="#ffffff" stroke="#d6e6ef" stroke-width="0.3" stroke-linejoin="round"/>
<path d="M467.38,71.29 L467.66,72.87 L468.27,73.93 L468.72,75.26 L468.50,77.11 L468.94,77.90 L469.88,78.34 L471.21,78.17 L471.16,76.40 L470.72,74.81 L471.55,74.64 L470.72,73.58 L470.38,73.58 L470.72,70.93 L469.61,70.85 L470.83,69.70 L469.72,69.26 L468.61,69.88 Z" fill="#ffffff" stroke="#d6e6ef" stroke-width="0.3" stroke-linejoin="round"/>
<path d="M465.72,76.05 L466.16,77.99 L466.55,79.14 L466.94,80.02 L466.55,80.81 L466.94,81.69 L467.66,82.58 L467.94,83.90 L468.27,84.34 L469.38,85.05 L470.16,86.37 L471.55,87.34 L472.66,86.90 L473.10,87.96 L473.77,88.22 L475.49,88.57 L476.82,88.49 L478.21,88.40 L478.65,89.10 L479.15,89.90 L479.48,89.72 L480.71,89.28 L480.15,86.99 L481.20,86.19 L482.09,84.43 L482.65,83.46 L483.09,82.31 L482.48,81.25 L482.65,80.11 L483.20,78.61 L482.87,77.99 L481.26,78.17 L480.71,77.55 L478.76,77.90 L477.38,77.72 L475.99,79.49 L475.27,78.52 L474.60,77.72 L472.94,77.28 L471.27,77.72 L471.21,78.17 L469.88,78.34 L468.94,77.90 L468.50,77.11 L467.94,76.84 L467.11,76.49 L466.16,75.78 Z" fill="#afd79b" stroke="#95c183" stroke-width="0.3" stroke-linejoin="round"/>
<path d="M482.09,75.96 L482.87,77.99 L483.20,78.61 L484.48,79.49 L485.03,80.81 L485.03,82.13 L485.31,83.46 L486.37,84.34 L487.92,85.49 L489.03,86.10 L490.20,86.19 L490.64,86.72 L491.08,85.93 L492.14,86.28 L492.36,86.28 L493.47,85.13 L494.58,84.87 L495.30,85.84 L495.86,86.55 L496.08,87.96 L495.52,89.63 L496.19,89.54 L496.52,90.95 L497.36,91.84 L497.80,91.04 L498.47,90.78 L499.30,90.69 L500.52,91.40 L501.24,91.84 L502.24,91.84 L502.52,92.81 L502.91,91.93 L504.68,91.13 L506.24,89.98 L507.62,88.31 L508.73,85.66 L508.95,84.08 L508.95,82.93 L508.40,81.96 L507.46,80.11 L508.18,79.05 L509.29,77.99 L507.29,77.81 L506.57,76.84 L506.79,76.23 L508.46,76.40 L508.79,74.81 L510.34,75.43 L511.23,74.20 L512.45,74.20 L513.28,73.40 L513.78,73.40 L514.12,72.70 L514.17,71.29 L515.17,71.02 L516.11,68.20 L514.00,68.64 L512.06,66.96 L511.12,64.23 L509.84,63.61 L508.34,63.79 L507.62,66.44 L506.68,67.14 L505.68,68.64 L505.40,70.67 L503.18,72.26 L503.02,72.52 L499.58,74.11 L497.24,73.23 L494.75,73.14 L494.19,71.73 L491.81,70.76 L491.58,68.91 L490.14,67.41 L489.75,67.49 L488.75,69.35 L487.09,70.67 L485.81,71.11 L485.98,72.96 L483.65,75.08 Z" fill="#f6460a" stroke="#e0420f" stroke-width="0.3" stroke-linejoin="round"/>
<path d="M501.57,93.87 L502.63,93.07 L502.91,93.51 L502.07,94.75 Z" fill="#f6460a" stroke="#e0420f" stroke-width="0.3" stroke-linejoin="round"/>
<path d="M507.96,90.51 L508.46,88.57 L508.95,88.75 L508.46,91.40 Z" fill="#f6460a" stroke="#e0420f" stroke-width="0.3" stroke-linejoin="round"/>
<path d="M479.48,89.72 L480.71,89.28 L480.15,86.99 L481.20,86.19 L482.09,84.43 L482.65,83.46 L483.09,82.31 L482.48,81.25 L482.65,80.11 L484.48,79.49 L485.03,80.81 L485.03,82.13 L485.31,83.46 L486.37,84.34 L485.70,85.40 L487.53,86.63 L490.20,87.43 L490.20,86.19 L490.64,86.72 L491.14,87.25 L492.36,87.16 L492.36,86.28 L493.47,85.13 L494.58,84.87 L495.30,85.84 L495.13,86.90 L494.14,87.34 L493.58,89.63 L493.08,90.25 L492.75,91.40 L492.47,89.90 L491.92,89.90 L492.58,88.75 L491.14,88.49 L490.69,87.52 L490.14,89.19 L490.69,91.40 L490.58,91.75 L489.59,92.01 L489.31,93.16 L488.36,93.95 L486.98,96.16 L485.87,97.13 L485.81,99.33 L485.64,101.72 L484.31,103.66 L483.70,102.42 L483.20,100.22 L482.65,98.01 L482.09,96.69 L481.70,94.04 L481.65,92.28 L481.54,91.57 L480.43,92.45 L479.60,91.13 L480.32,90.60 Z" fill="#f6460a" stroke="#e0420f" stroke-width="0.3" stroke-linejoin="round"/>
<path d="M485.59,102.16 L486.70,104.19 L486.42,105.33 L485.76,105.51 L485.53,103.57 Z" fill="#8ed0f1" stroke="#77b6d9" stroke-width="0.3" stroke-linejoin="round"/>
<path d="M438.14,66.61 L439.63,66.08 L442.08,65.64 L442.24,64.32 L441.47,63.70 L441.19,62.73 L440.41,61.76 L440.19,61.41 L439.47,61.41 L440.30,60.00 L439.36,59.11 L438.53,59.11 L437.86,60.08 L438.19,61.14 L437.97,62.11 L438.58,62.47 L439.52,62.73 L439.52,63.70 L438.75,63.79 L438.97,64.67 L438.36,65.11 L439.52,65.47 Z" fill="#8ed0f1" stroke="#77b6d9" stroke-width="0.3" stroke-linejoin="round"/>
<path d="M437.97,64.76 L437.86,63.26 L438.19,62.47 L437.14,62.03 L436.42,62.91 L435.75,63.61 L435.86,65.29 L436.86,65.20 Z" fill="#8ed0f1" stroke="#77b6d9" stroke-width="0.3" stroke-linejoin="round"/>
<path d="M513.95,80.81 L514.84,79.49 L516.50,79.40 L517.22,77.90 L518.17,77.81 L519.00,75.96 L519.00,74.46 L519.83,74.29 L520.11,75.96 L519.56,77.28 L519.44,78.61 L519.17,79.84 L518.33,80.28 L517.34,80.28 L516.50,81.25 L516.23,80.28 L514.84,80.81 Z" fill="#edeef1" stroke="#d3d5da" stroke-width="0.3" stroke-linejoin="round"/>
<path d="M519.00,74.20 L519.67,73.93 L520.83,73.76 L522.05,72.61 L521.50,71.99 L520.05,70.67 L519.89,72.43 L519.17,72.61 Z" fill="#edeef1" stroke="#d3d5da" stroke-width="0.3" stroke-linejoin="round"/>
<path d="M513.45,81.25 L514.00,80.81 L514.56,81.69 L514.06,83.11 L513.56,83.28 Z" fill="#edeef1" stroke="#d3d5da" stroke-width="0.3" stroke-linejoin="round"/>
<path d="M520.11,70.23 L520.94,69.52 L520.66,67.14 L521.50,67.58 L520.66,64.94 L520.66,63.00 L520.44,62.91 L520.11,65.82 L520.00,68.46 Z" fill="#8ed0f1" stroke="#77b6d9" stroke-width="0.3" stroke-linejoin="round"/>
<path d="M507.90,96.69 L508.23,94.48 L509.12,94.48 L509.01,96.25 L508.73,98.01 L510.12,99.33 L509.29,98.89 L508.18,98.01 Z" fill="#edeef1" stroke="#d3d5da" stroke-width="0.3" stroke-linejoin="round"/>
<path d="M509.01,104.63 L509.84,103.74 L510.95,102.16 L511.51,104.63 L510.95,105.86 L510.12,105.07 Z" fill="#edeef1" stroke="#d3d5da" stroke-width="0.3" stroke-linejoin="round"/>
<path d="M509.01,101.10 L510.12,99.77 L510.95,101.10 L509.84,102.42 Z" fill="#edeef1" stroke="#d3d5da" stroke-width="0.3" stroke-linejoin="round"/>
<path d="M494.19,105.86 L495.41,106.21 L496.97,108.86 L498.91,111.68 L500.13,113.45 L500.02,115.92 L499.30,116.00 L498.08,114.33 L497.08,111.68 L496.08,109.30 Z" fill="#afd79b" stroke="#95c183" stroke-width="0.3" stroke-linejoin="round"/>
<path d="M499.69,116.80 L500.30,116.09 L501.52,116.53 L502.91,116.53 L503.74,116.89 L504.85,117.68 L504.85,118.47 L502.91,118.12 L501.24,117.68 L499.85,116.97 Z" fill="#afd79b" stroke="#95c183" stroke-width="0.3" stroke-linejoin="round"/>
<path d="M501.80,109.48 L502.13,109.04 L503.02,108.59 L504.01,107.98 L505.40,106.39 L506.24,104.63 L507.07,106.39 L507.35,106.83 L506.79,108.86 L507.29,110.09 L506.51,110.80 L505.96,113.00 L505.68,114.15 L504.85,114.33 L502.91,113.45 L502.35,112.39 L501.80,110.80 Z" fill="#afd79b" stroke="#95c183" stroke-width="0.3" stroke-linejoin="round"/>
<path d="M507.62,115.65 L508.18,112.56 L508.73,111.68 L509.73,111.68 L508.73,109.92 L510.56,109.48 L508.18,110.36 L507.68,110.80 L507.23,113.27 Z" fill="#afd79b" stroke="#95c183" stroke-width="0.3" stroke-linejoin="round"/>
<path d="M514.00,111.68 L515.67,111.51 L516.50,113.71 L517.89,112.30 L519.56,113.09 L521.50,114.15 L522.33,115.65 L523.16,116.09 L523.44,117.86 L524.83,120.06 L523.44,119.80 L522.33,118.03 L521.22,117.50 L520.83,118.74 L519.56,118.83 L518.45,118.03 L517.89,118.21 L517.72,115.47 L516.23,114.68 L515.12,114.33 L514.56,113.27 Z" fill="#8ed0f1" stroke="#77b6d9" stroke-width="0.3" stroke-linejoin="round"/>
<path d="M510.12,119.62 L511.79,118.21 L510.68,119.09 Z" fill="#afd79b" stroke="#95c183" stroke-width="0.3" stroke-linejoin="round"/>
<path d="M505.12,118.03 L507.35,118.12 L509.01,118.03 L509.01,118.65 L506.79,118.74 L505.12,118.56 Z" fill="#afd79b" stroke="#95c183" stroke-width="0.3" stroke-linejoin="round"/>
<path d="M504.29,130.20 L504.68,133.73 L504.18,134.17 L505.07,136.82 L505.12,138.58 L505.46,140.35 L505.12,141.05 L506.07,141.67 L506.79,141.67 L507.90,140.70 L509.84,140.70 L511.23,139.29 L512.89,138.76 L514.12,138.58 L515.78,139.55 L516.50,141.49 L517.78,139.55 L517.61,141.93 L518.72,142.38 L519.28,144.32 L520.66,145.02 L521.55,144.49 L522.50,145.29 L523.44,144.14 L524.55,143.88 L524.99,141.23 L525.38,139.91 L526.22,138.14 L526.55,135.67 L526.22,133.11 L525.11,131.53 L524.27,130.47 L522.61,127.56 L522.05,124.91 L521.94,124.03 L520.94,123.15 L520.39,120.24 L519.89,122.27 L519.83,124.91 L519.28,126.23 L518.45,125.79 L516.78,124.47 L516.50,123.59 L517.22,121.56 L515.12,120.77 L514.00,121.56 L513.56,122.44 L513.17,124.03 L512.06,123.32 L510.95,123.59 L510.29,125.26 L509.12,126.32 L508.73,128.00 L507.35,128.53 L506.12,128.97 L504.85,129.94 Z" fill="#8ed0f1" stroke="#77b6d9" stroke-width="0.3" stroke-linejoin="round"/>
<path d="M521.61,146.70 L523.61,146.87 L523.44,148.90 L522.33,149.26 L521.61,147.40 Z" fill="#8ed0f1" stroke="#77b6d9" stroke-width="0.3" stroke-linejoin="round"/>
<path d="M537.15,141.14 L538.15,142.55 L538.87,143.61 L540.37,144.05 L539.81,145.46 L539.42,146.08 L538.54,147.49 L538.20,147.14 L538.43,145.90 L537.76,145.37 L538.20,144.32 L537.43,142.11 Z" fill="#8ed0f1" stroke="#77b6d9" stroke-width="0.3" stroke-linejoin="round"/>
<path d="M537.15,146.52 L538.04,147.58 L537.43,148.73 L537.15,149.34 L536.32,150.05 L535.98,151.28 L535.10,151.90 L533.71,151.37 L533.87,150.49 L534.71,149.61 L535.93,148.73 L536.76,147.40 Z" fill="#8ed0f1" stroke="#77b6d9" stroke-width="0.3" stroke-linejoin="round"/>
<path d="M470.16,47.74 L472.38,48.53 L473.21,48.44 L472.10,46.85 L473.21,45.97 L474.60,45.09 L475.99,43.77 L479.32,43.06 L477.93,42.89 L473.77,43.94 L471.82,45.09 L470.99,46.24 Z" fill="#8ed0f1" stroke="#77b6d9" stroke-width="0.3" stroke-linejoin="round"/>
<path d="M495.13,41.56 L497.91,41.12 L499.58,41.56 L500.69,39.80 L496.80,39.18 L492.92,40.24 Z" fill="#8ed0f1" stroke="#77b6d9" stroke-width="0.3" stroke-linejoin="round"/>
<path d="M517.34,44.65 L520.66,45.97 L524.55,44.65 L521.77,43.77 L519.00,43.94 Z" fill="#8ed0f1" stroke="#77b6d9" stroke-width="0.3" stroke-linejoin="round"/>
<path d="M447.41,41.56 L449.62,42.89 L451.29,42.89 L452.96,41.56 L456.29,40.68 L455.18,39.98 L452.40,39.80 L450.74,40.24 L447.41,40.50 Z" fill="#8ed0f1" stroke="#77b6d9" stroke-width="0.3" stroke-linejoin="round"/>
<path d="M466.28,39.80 L469.05,40.24 L474.60,39.80 L475.71,38.92 L471.82,38.65 L467.38,39.36 Z" fill="#8ed0f1" stroke="#77b6d9" stroke-width="0.3" stroke-linejoin="round"/>
<path d="M341.40,47.74 L343.06,48.00 L342.51,48.27 Z" fill="#8ed0f1" stroke="#77b6d9" stroke-width="0.3" stroke-linejoin="round"/>
<path d="M455.18,82.93 L455.18,91.40 L461.78,91.40" fill="none" stroke="#6fa9ca" stroke-width="0.22" stroke-linejoin="round"/>
<path d="M455.18,91.40 L455.18,93.16 L454.62,93.60 L450.12,90.16 L447.90,90.07 L446.57,84.16 L446.85,82.13" fill="none" stroke="#6fa9ca" stroke-width="0.22" stroke-linejoin="round"/>
<path d="M436.47,86.37 L438.64,88.75 L441.97,92.45 L443.63,93.95 L444.52,93.69 L447.90,90.07" fill="none" stroke="#6fa9ca" stroke-width="0.22" stroke-linejoin="round"/>
<path d="M440.36,79.93 L440.63,82.49 L436.47,85.49 L436.47,86.37 L434.09,86.37" fill="none" stroke="#6fa9ca" stroke-width="0.22" stroke-linejoin="round"/>
<path d="M431.87,92.28 L434.64,92.28 L434.64,97.57 L434.97,99.77" fill="none" stroke="#6fa9ca" stroke-width="0.22" stroke-linejoin="round"/>
<path d="M434.64,97.57 L438.53,97.57 L441.86,97.57 L443.63,98.01 L443.63,93.95" fill="none" stroke="#6fa9ca" stroke-width="0.22" stroke-linejoin="round"/>
<path d="M450.12,90.16 L449.90,93.16 L448.85,98.89 L449.62,101.98 L449.90,104.19" fill="none" stroke="#6fa9ca" stroke-width="0.22" stroke-linejoin="round"/>
<path d="M454.62,93.60 L453.51,99.33 L454.34,102.86 L456.56,106.39 L458.50,107.62 L460.17,107.01 L461.22,105.95 L461.56,98.45 L462.67,94.92" fill="none" stroke="#6fa9ca" stroke-width="0.22" stroke-linejoin="round"/>
<path d="M460.17,107.01 L464.06,107.36 L464.61,107.27 L466.05,106.48 L467.94,103.74 L465.33,100.30" fill="none" stroke="#6fa9ca" stroke-width="0.22" stroke-linejoin="round"/>
<path d="M460.11,111.68 L458.39,111.68 L457.73,112.03 L457.40,114.77 L457.73,116.36" fill="none" stroke="#6fa9ca" stroke-width="0.22" stroke-linejoin="round"/>
<path d="M447.96,126.06 L452.40,126.59 L454.34,126.23 L455.18,126.68 L457.40,130.20 L458.78,130.47" fill="none" stroke="#6fa9ca" stroke-width="0.22" stroke-linejoin="round"/>
<path d="M450.46,136.03 L452.40,135.85 L452.40,132.67 L455.73,132.59 L458.78,130.47" fill="none" stroke="#6fa9ca" stroke-width="0.22" stroke-linejoin="round"/>
<path d="M452.40,126.59 L452.40,130.20 L452.40,132.67" fill="none" stroke="#6fa9ca" stroke-width="0.22" stroke-linejoin="round"/>
<path d="M460.89,129.76 L459.06,129.32 L459.62,125.79 L458.23,124.47 L459.45,122.71 L460.73,120.94" fill="none" stroke="#6fa9ca" stroke-width="0.22" stroke-linejoin="round"/>
<path d="M436.58,106.74 L436.53,104.19 L437.97,101.72 L439.75,102.33 L439.63,101.19 L441.30,101.10 L442.80,99.77 L443.30,100.48" fill="none" stroke="#6fa9ca" stroke-width="0.22" stroke-linejoin="round"/>
<path d="M433.97,103.30 L434.92,101.98 L435.19,99.86 L436.86,100.22 L438.25,101.63" fill="none" stroke="#6fa9ca" stroke-width="0.22" stroke-linejoin="round"/>
<path d="M446.57,108.77 L447.57,108.86 L448.68,108.86 L450.18,109.04 L451.62,107.01 L453.51,106.74 L454.62,106.30 L456.56,106.39" fill="none" stroke="#6fa9ca" stroke-width="0.22" stroke-linejoin="round"/>
<path d="M440.30,72.52 L443.02,73.40" fill="none" stroke="#6fa9ca" stroke-width="0.22" stroke-linejoin="round"/>
<path d="M437.42,73.76 L437.14,75.96 L437.19,77.99" fill="none" stroke="#6fa9ca" stroke-width="0.22" stroke-linejoin="round"/>
<path d="M442.69,65.73 L443.96,66.70 L444.69,67.14 L445.85,67.58 L445.52,68.82 L444.63,69.96 L445.19,70.32 L445.46,72.17" fill="none" stroke="#6fa9ca" stroke-width="0.22" stroke-linejoin="round"/>
<path d="M444.69,67.14 L444.74,65.11 L445.19,63.61" fill="none" stroke="#6fa9ca" stroke-width="0.22" stroke-linejoin="round"/>
<path d="M445.52,68.82 L447.13,68.91 L448.51,68.91 L450.74,68.46 L453.79,67.49 L454.62,66.26 L454.34,63.17 L452.96,62.03" fill="none" stroke="#6fa9ca" stroke-width="0.22" stroke-linejoin="round"/>
<path d="M449.24,63.26 L449.40,65.82 L449.62,65.91 L448.07,66.44 L448.51,67.93 L448.51,68.91" fill="none" stroke="#6fa9ca" stroke-width="0.22" stroke-linejoin="round"/>
<path d="M447.13,68.91 L448.24,69.70 L448.90,70.58" fill="none" stroke="#6fa9ca" stroke-width="0.22" stroke-linejoin="round"/>
<path d="M450.46,69.79 L451.85,70.32 L452.57,70.05 L453.95,68.46 L456.06,68.29 L456.95,70.67 L457.78,70.85" fill="none" stroke="#6fa9ca" stroke-width="0.22" stroke-linejoin="round"/>
<path d="M452.07,73.93 L452.84,73.58 L454.01,74.37 L455.73,74.81" fill="none" stroke="#6fa9ca" stroke-width="0.22" stroke-linejoin="round"/>
<path d="M454.01,74.37 L453.84,71.82 L451.85,70.32" fill="none" stroke="#6fa9ca" stroke-width="0.22" stroke-linejoin="round"/>
<path d="M456.84,49.50 L457.40,52.59 L457.95,56.38 L456.73,57.44" fill="none" stroke="#6fa9ca" stroke-width="0.22" stroke-linejoin="round"/>
<path d="M454.62,50.38 L452.68,49.94 L451.29,50.65 L449.90,52.59 L448.24,53.91 L448.07,57.00 L447.41,58.76" fill="none" stroke="#6fa9ca" stroke-width="0.22" stroke-linejoin="round"/>
<path d="M456.84,58.32 L456.67,60.08 L456.95,61.23 L458.50,61.41 L459.06,63.35 L458.95,64.85 L459.89,64.67 L461.00,66.35 L463.50,67.05 L462.50,69.26" fill="none" stroke="#6fa9ca" stroke-width="0.22" stroke-linejoin="round"/>
<path d="M454.34,63.17 L455.73,61.67 L456.95,61.23" fill="none" stroke="#6fa9ca" stroke-width="0.22" stroke-linejoin="round"/>
<path d="M452.96,62.03 L453.51,61.06 L456.29,60.08" fill="none" stroke="#6fa9ca" stroke-width="0.22" stroke-linejoin="round"/>
<path d="M467.38,71.29 L467.11,68.91 L468.50,68.02 L469.49,65.20 L472.10,66.26 L475.16,65.82 L475.43,64.50 L474.60,63.17 L477.38,62.29 L480.15,62.11 L482.09,63.17 L483.76,63.00 L484.04,63.61 L487.37,65.82 L489.75,67.49" fill="none" stroke="#6fa9ca" stroke-width="0.22" stroke-linejoin="round"/>
<path d="M470.72,73.58 L472.38,71.11 L473.77,70.67 L475.16,71.55 L477.38,72.43 L479.04,74.64 L480.15,73.76 L480.71,73.05 L482.37,72.87 L485.98,72.96" fill="none" stroke="#6fa9ca" stroke-width="0.22" stroke-linejoin="round"/>
<path d="M472.38,71.11 L472.38,74.37 L474.60,74.37 L476.26,76.40 L478.21,77.72" fill="none" stroke="#6fa9ca" stroke-width="0.22" stroke-linejoin="round"/>
<path d="M474.60,74.37 L475.71,72.43 L477.38,72.43" fill="none" stroke="#6fa9ca" stroke-width="0.22" stroke-linejoin="round"/>
<path d="M489.75,67.49 L491.25,66.17 L492.36,65.99 L495.69,64.94 L497.91,65.55 L500.69,66.70 L503.46,67.14 L505.68,66.70 L506.68,67.14" fill="none" stroke="#6fa9ca" stroke-width="0.22" stroke-linejoin="round"/>
<path d="M466.16,75.78 L465.44,74.55 L466.28,73.31 L467.66,74.46 L468.50,74.11" fill="none" stroke="#6fa9ca" stroke-width="0.22" stroke-linejoin="round"/>
<path d="M461.56,82.58 L462.94,82.40 L464.61,83.46 L467.11,85.22 L467.94,84.78" fill="none" stroke="#6fa9ca" stroke-width="0.22" stroke-linejoin="round"/>
<path d="M462.94,82.40 L462.83,81.34 L464.06,80.46 L464.78,78.08 L466.16,77.99" fill="none" stroke="#6fa9ca" stroke-width="0.22" stroke-linejoin="round"/>
<path d="M461.28,79.22 L461.84,78.52 L463.50,78.25 L464.78,78.08" fill="none" stroke="#6fa9ca" stroke-width="0.22" stroke-linejoin="round"/>
<path d="M465.17,95.36 L467.38,95.81 L470.27,94.04 L472.10,90.95 L472.21,89.37" fill="none" stroke="#6fa9ca" stroke-width="0.22" stroke-linejoin="round"/>
<path d="M455.73,74.02 L456.84,73.76 L456.01,74.81" fill="none" stroke="#6fa9ca" stroke-width="0.22" stroke-linejoin="round"/>
<path d="M495.30,85.84 L496.08,87.96 L495.69,89.54 L496.80,91.84 L497.41,91.75 L497.91,91.04" fill="none" stroke="#6fa9ca" stroke-width="0.22" stroke-linejoin="round"/>
<path d="M496.80,91.84 L497.08,93.60 L497.91,94.92 L499.58,96.69 L500.96,98.01 L500.41,101.10 L500.13,102.60" fill="none" stroke="#6fa9ca" stroke-width="0.22" stroke-linejoin="round"/>
<path d="M495.30,85.84 L495.52,89.63 L496.19,89.54" fill="none" stroke="#6fa9ca" stroke-width="0.22" stroke-linejoin="round"/>
<path d="M495.97,101.54 L496.52,97.31 L495.97,95.98 L495.47,94.48 L496.80,92.90" fill="none" stroke="#6fa9ca" stroke-width="0.22" stroke-linejoin="round"/>
<path d="M498.24,100.04 L499.58,98.19 L500.96,98.01" fill="none" stroke="#6fa9ca" stroke-width="0.22" stroke-linejoin="round"/>
<path d="M401.34,100.30 L401.06,104.19 L402.39,104.71 L403.84,105.33 L403.95,109.04" fill="none" stroke="#6fa9ca" stroke-width="0.22" stroke-linejoin="round"/>
<path d="M407.44,103.30 L407.39,106.21 L408.00,109.04 L409.94,109.12" fill="none" stroke="#6fa9ca" stroke-width="0.22" stroke-linejoin="round"/>
<path d="M409.67,105.51 L409.11,107.45 L409.94,109.12" fill="none" stroke="#6fa9ca" stroke-width="0.22" stroke-linejoin="round"/>
<path d="M396.73,113.80 L397.73,112.56 L399.40,111.68 L400.51,114.68 L402.45,114.50" fill="none" stroke="#6fa9ca" stroke-width="0.22" stroke-linejoin="round"/>
<path d="M397.45,109.48 L399.40,110.89 L400.51,111.68 L402.45,111.24" fill="none" stroke="#6fa9ca" stroke-width="0.22" stroke-linejoin="round"/>
<path d="M402.73,120.41 L403.00,124.03 L402.73,126.23 L402.28,126.94" fill="none" stroke="#6fa9ca" stroke-width="0.22" stroke-linejoin="round"/>
<path d="M402.73,126.23 L403.56,129.76 L404.12,130.91 L405.23,130.29 L406.61,130.38 L408.00,127.82 L409.11,128.44" fill="none" stroke="#6fa9ca" stroke-width="0.22" stroke-linejoin="round"/>
<path d="M406.61,130.38 L407.44,131.79 L409.11,132.85 L411.00,133.38" fill="none" stroke="#6fa9ca" stroke-width="0.22" stroke-linejoin="round"/>
<path d="M403.56,129.76 L403.28,132.41 L403.28,134.61 L402.56,137.26 L402.45,139.91 L401.78,142.55 L401.62,146.08 L401.45,149.61 L401.45,151.37 L401.06,153.58 L400.62,155.34 L401.62,156.66 L403.00,156.66" fill="none" stroke="#6fa9ca" stroke-width="0.22" stroke-linejoin="round"/>
<path d="M411.61,140.52 L409.33,137.44" fill="none" stroke="#6fa9ca" stroke-width="0.22" stroke-linejoin="round"/>
<path d="M363.05,57.62 L374.70,57.88 L384.69,57.88 L388.69,57.88" fill="none" stroke="#6fa9ca" stroke-width="0.22" stroke-linejoin="round"/>
<path d="M374.70,57.88 L374.70,67.58" fill="none" stroke="#6fa9ca" stroke-width="0.22" stroke-linejoin="round"/>
<path d="M380.25,57.88 L380.25,67.58" fill="none" stroke="#6fa9ca" stroke-width="0.22" stroke-linejoin="round"/>
<path d="M384.69,57.88 L384.69,67.58" fill="none" stroke="#6fa9ca" stroke-width="0.22" stroke-linejoin="round"/>
<path d="M388.46,67.58 L388.57,64.23 L391.91,60.53 L392.18,60.97" fill="none" stroke="#6fa9ca" stroke-width="0.22" stroke-linejoin="round"/>
<path d="M397.18,65.29 L397.18,68.91 L398.56,70.32 L399.95,70.93" fill="none" stroke="#6fa9ca" stroke-width="0.22" stroke-linejoin="round"/>
<path d="M373.04,57.88 L366.38,50.21" fill="none" stroke="#6fa9ca" stroke-width="0.22" stroke-linejoin="round"/>
<path d="M384.69,57.88 L384.69,54.35 L380.25,53.47 L374.70,50.38" fill="none" stroke="#6fa9ca" stroke-width="0.22" stroke-linejoin="round"/>
<path d="M370.90,199.20 A42.3,42.3 0 0 1 408.25,261.36 L397.74,255.77 A30.4,30.4 0 0 0 370.90,211.10 Z" fill="#2a9fe0" stroke="#fff" stroke-width="0.8"/>
<path d="M408.25,261.36 A42.3,42.3 0 0 1 344.28,274.37 L351.77,265.13 A30.4,30.4 0 0 0 397.74,255.77 Z" fill="#44a5ba" stroke="#fff" stroke-width="0.8"/>
<path d="M344.28,274.37 A42.3,42.3 0 0 1 329.24,234.15 L340.96,236.22 A30.4,30.4 0 0 0 351.77,265.13 Z" fill="#6a8fac" stroke="#fff" stroke-width="0.8"/>
<path d="M329.24,234.15 A42.3,42.3 0 0 1 338.50,214.31 L347.61,221.96 A30.4,30.4 0 0 0 340.96,236.22 Z" fill="#e9b51e" stroke="#fff" stroke-width="0.8"/>
<path d="M338.50,214.31 A42.3,42.3 0 0 1 349.75,204.87 L355.70,215.17 A30.4,30.4 0 0 0 347.61,221.96 Z" fill="#4170cd" stroke="#fff" stroke-width="0.8"/>
<path d="M349.75,204.87 A42.3,42.3 0 0 1 360.67,200.46 L363.55,212.00 A30.4,30.4 0 0 0 355.70,215.17 Z" fill="#6db14d" stroke="#fff" stroke-width="0.8"/>
<path d="M360.67,200.46 A42.3,42.3 0 0 1 370.90,199.20 L370.90,211.10 A30.4,30.4 0 0 0 363.55,212.00 Z" fill="#2b5c8e" stroke="#fff" stroke-width="0.8"/>
<path d="M407.7,215.4 L411.5,213.8 L413.5,213.8" fill="none" stroke="#aaa" stroke-width="0.4"/>
<path d="M400.7,273.6 L404.5,276.1 L407.5,276.1" fill="none" stroke="#aaa" stroke-width="0.4"/>
<path d="M333.5,264.1 L330.7,265.8 L329.2,265.8" fill="none" stroke="#aaa" stroke-width="0.4"/>
<path d="M330.7,225.3 L328,222.6 L323.8,222.6" fill="none" stroke="#aaa" stroke-width="0.4"/>
<path d="M341.6,208.5 L338.9,206.3 L334.8,206" fill="none" stroke="#aaa" stroke-width="0.4"/>
<path d="M356.5,199.8 L351.1,191.6 L348.4,191" fill="none" stroke="#aaa" stroke-width="0.4"/>
<path d="M366,197.6 L367.4,190.2 L379.6,190.2" fill="none" stroke="#aaa" stroke-width="0.4"/>
<circle cx="12.5" cy="326.0" r="8.5" fill="#ec8c2c"/>
<path d="M8.50,322.00 L16.50,322.00 L13.70,326.80 L13.70,329.00 L15.10,330.00 L9.90,330.00 L11.30,329.00 L11.30,326.80 Z" fill="#f9dcc0" opacity="0.9"/>
<path d="M10.30,323.40 L14.70,323.40 L12.50,326.20 Z" fill="#ef9a4a"/>
<circle cx="12.5" cy="326.0" r="7.90" fill="none" stroke="#e8632a" stroke-width="1.00" stroke-dasharray="1.20 1.60" opacity="0.7"/>
<polyline points="543.3,324.4 546,327.1 548.7,324.4" fill="none" stroke="#8a8a8a" stroke-width="0.8"/>
<polyline points="579.2,323.5 581.8,326.1 579.2,328.7" fill="none" stroke="#3a9ad9" stroke-width="0.8"/>
<path d="M155.60,403.00 A80.6,80.6 0 0 1 226.77,521.44 L208.05,511.49 A59.4,59.4 0 0 0 155.60,424.20 Z" fill="#2a9fe0" stroke="#fff" stroke-width="1.4"/>
<path d="M226.77,521.44 A80.6,80.6 0 0 1 104.88,546.24 L118.22,529.76 A59.4,59.4 0 0 0 208.05,511.49 Z" fill="#44a5ba" stroke="#fff" stroke-width="1.4"/>
<path d="M104.88,546.24 A80.6,80.6 0 0 1 76.22,469.60 L97.10,473.29 A59.4,59.4 0 0 0 118.22,529.76 Z" fill="#6a8fac" stroke="#fff" stroke-width="1.4"/>
<path d="M76.22,469.60 A80.6,80.6 0 0 1 93.86,431.79 L110.10,445.42 A59.4,59.4 0 0 0 97.10,473.29 Z" fill="#e9b51e" stroke="#fff" stroke-width="1.4"/>
<path d="M93.86,431.79 A80.6,80.6 0 0 1 115.30,413.80 L125.90,432.16 A59.4,59.4 0 0 0 110.10,445.42 Z" fill="#4170cd" stroke="#fff" stroke-width="1.4"/>
<path d="M115.30,413.80 A80.6,80.6 0 0 1 136.10,405.39 L141.23,425.96 A59.4,59.4 0 0 0 125.90,432.16 Z" fill="#6db14d" stroke="#fff" stroke-width="1.4"/>
<path d="M136.10,405.39 A80.6,80.6 0 0 1 155.60,403.00 L155.60,424.20 A59.4,59.4 0 0 0 141.23,425.96 Z" fill="#2b5c8e" stroke="#fff" stroke-width="1.4"/>
<path d="M225.9,435.1 L229.5,432 L233.4,432" fill="none" stroke="#8a8a8a" stroke-width="0.7"/>
<path d="M213.1,546.2 L217.9,550.5 L221.7,550.5" fill="none" stroke="#8a8a8a" stroke-width="0.7"/>
<path d="M74.7,530.4 L77.9,530.4 L82.7,527.2" fill="none" stroke="#8a8a8a" stroke-width="0.7"/>
<path d="M69,446.9 L73.2,446.9 L77.4,451.7" fill="none" stroke="#8a8a8a" stroke-width="0.7"/>
<path d="M89.8,417.4 L94,417.4 L98.2,420.5" fill="none" stroke="#8a8a8a" stroke-width="0.7"/>
<path d="M112.7,394.1 L117,394.1 L127.2,403.9" fill="none" stroke="#8a8a8a" stroke-width="0.7"/>
<path d="M147,399.7 L156.3,389.3 L161.5,389.3" fill="none" stroke="#8a8a8a" stroke-width="0.7"/>
<circle cx="15.1" cy="611.6" r="8.0" fill="#ec8c2c"/>
<path d="M11.34,607.84 L18.86,607.84 L16.23,612.35 L16.23,614.42 L17.55,615.36 L12.65,615.36 L13.97,614.42 L13.97,612.35 Z" fill="#f9dcc0" opacity="0.9"/>
<path d="M13.03,609.15 L17.17,609.15 L15.10,611.79 Z" fill="#ef9a4a"/>
<circle cx="15.1" cy="611.6" r="7.44" fill="none" stroke="#e8632a" stroke-width="0.94" stroke-dasharray="1.13 1.51" opacity="0.7"/>
<polyline points="484.2,610.2 486.5,612.5 488.8,610.2" fill="none" stroke="#8a8a8a" stroke-width="0.7"/>
<polyline points="517.6,609.3 519.8,611.5 517.6,613.7" fill="none" stroke="#3a9ad9" stroke-width="0.7"/>
</svg>
<div style="position:absolute;left:0;top:0;width:291px;height:300px;overflow:hidden;"><div class="t" style="left:0.30px;top:0.87px;font-size:4.2px;line-height:5.46px;color:#3a9ad9;font-weight:500;font-family:'Liberation Sans','Noto Sans CJK SC',sans-serif;">贸易分析</div>
<div class="t" style="left:29.00px;top:0.87px;font-size:4.2px;line-height:5.46px;color:#333;font-weight:500;font-family:'Liberation Sans','Noto Sans CJK SC',sans-serif;">公司信息</div>
<div class="t" style="left:58.00px;top:0.87px;font-size:4.2px;line-height:5.46px;color:#333;font-weight:500;font-family:'Liberation Sans','Noto Sans CJK SC',sans-serif;">联系人</div>
<div class="t" style="left:82.00px;top:0.87px;font-size:4.2px;line-height:5.46px;color:#333;font-weight:500;font-family:'Liberation Sans','Noto Sans CJK SC',sans-serif;">客户邮件</div>
<div class="t" style="left:16.00px;top:13.50px;font-size:3.7px;line-height:4.81px;color:#999;font-weight:normal;font-family:'Liberation Sans','Noto Sans CJK SC',sans-serif;">时间范围</div>
<div class="t" style="left:36.00px;top:13.62px;font-size:3.5px;line-height:4.55px;color:#444;font-weight:normal;font-family:'Liberation Sans','Noto Sans CJK SC',sans-serif;">近一年</div>
<div class="t" style="left:16.80px;top:24.86px;font-size:3.6px;line-height:4.68px;color:#999;font-weight:normal;font-family:'Liberation Sans','Noto Sans CJK SC',sans-serif;">买家所在国家</div>
<div class="t" style="left:43.00px;top:24.86px;font-size:3.6px;line-height:4.68px;color:#444;font-weight:normal;font-family:'Liberation Sans','Noto Sans CJK SC',sans-serif;">美国</div>
<div class="t" style="left:89.20px;top:19.23px;font-size:3.5px;line-height:4.55px;color:#bbb;font-weight:normal;font-family:'Liberation Sans','Noto Sans CJK SC',sans-serif;">»</div>
<div class="t" style="left:110.60px;top:11.83px;font-size:9.8px;line-height:12.74px;color:#666;font-weight:normal;font-family:'Liberation Sans','Noto Sans CJK SC',sans-serif;transform:scaleX(0.85);transform-origin:0 50%;">1108</div>
<div class="t" style="left:111.10px;top:23.56px;font-size:3.6px;line-height:4.68px;color:#999;font-weight:normal;font-family:'Liberation Sans','Noto Sans CJK SC',sans-serif;">贸易次数</div>
<div class="t" style="left:158.50px;top:11.83px;font-size:9.8px;line-height:12.74px;color:#666;font-weight:normal;font-family:'Liberation Sans','Noto Sans CJK SC',sans-serif;transform:scaleX(0.85);transform-origin:0 50%;">234</div>
<div class="t" style="left:159.00px;top:23.56px;font-size:3.6px;line-height:4.68px;color:#999;font-weight:normal;font-family:'Liberation Sans','Noto Sans CJK SC',sans-serif;">采购商</div>
<div class="t" style="left:203.20px;top:11.83px;font-size:9.8px;line-height:12.74px;color:#666;font-weight:normal;font-family:'Liberation Sans','Noto Sans CJK SC',sans-serif;transform:scaleX(0.85);transform-origin:0 50%;">1567</div>
<div class="t" style="left:203.70px;top:23.56px;font-size:3.6px;line-height:4.68px;color:#999;font-weight:normal;font-family:'Liberation Sans','Noto Sans CJK SC',sans-serif;">联系人</div>
<div class="t" style="left:250.20px;top:11.83px;font-size:9.8px;line-height:12.74px;color:#666;font-weight:normal;font-family:'Liberation Sans','Noto Sans CJK SC',sans-serif;transform:scaleX(0.85);transform-origin:0 50%;">2018-01-15</div>
<div class="t" style="left:250.70px;top:23.56px;font-size:3.6px;line-height:4.68px;color:#999;font-weight:normal;font-family:'Liberation Sans','Noto Sans CJK SC',sans-serif;">最近一次贸易记录</div>
<div class="t" style="left:15.60px;top:46.41px;font-size:4.3px;line-height:5.59px;color:#333;font-weight:normal;font-family:'Liberation Sans','Noto Sans CJK SC',sans-serif;">出口贸易趋势</div>
<div class="t" style="left:253.50px;top:47.66px;font-size:3.6px;line-height:4.68px;color:#777;font-weight:normal;font-family:'Liberation Sans','Noto Sans CJK SC',sans-serif;">全部目的国</div>
<div class="t" style="left:284.30px;top:47.66px;font-size:3.6px;line-height:4.68px;color:#3a9ad9;font-weight:normal;font-family:'Liberation Sans','Noto Sans CJK SC',sans-serif;">详情</div>
<div class="t" style="left:-80.30px;width:400px;text-align:center;top:66.12px;font-size:3.5px;line-height:4.55px;color:#fff;font-weight:normal;font-family:'Liberation Sans','Noto Sans CJK SC',sans-serif;">贸易次数</div>
<div class="t" style="left:-59.00px;width:400px;text-align:center;top:66.06px;font-size:3.6px;line-height:4.68px;color:#444;font-weight:normal;font-family:'Liberation Sans','Noto Sans CJK SC',sans-serif;">重量</div>
<div class="t" style="left:-36.60px;width:400px;text-align:center;top:66.06px;font-size:3.6px;line-height:4.68px;color:#444;font-weight:normal;font-family:'Liberation Sans','Noto Sans CJK SC',sans-serif;">件数</div>
<div class="t" style="left:-16.90px;width:400px;text-align:center;top:66.06px;font-size:3.6px;line-height:4.68px;color:#444;font-weight:normal;font-family:'Liberation Sans','Noto Sans CJK SC',sans-serif;">20尺柜</div>
<div class="t" style="left:-382.00px;width:400px;text-align:right;top:82.02px;font-size:3.5px;line-height:4.55px;color:#888;font-weight:normal;font-family:'Liberation Sans','Noto Sans CJK SC',sans-serif;">240</div>
<div class="t" style="left:-382.00px;width:400px;text-align:right;top:103.82px;font-size:3.5px;line-height:4.55px;color:#888;font-weight:normal;font-family:'Liberation Sans','Noto Sans CJK SC',sans-serif;">160</div>
<div class="t" style="left:-382.00px;width:400px;text-align:right;top:125.62px;font-size:3.5px;line-height:4.55px;color:#888;font-weight:normal;font-family:'Liberation Sans','Noto Sans CJK SC',sans-serif;">80</div>
<div class="t" style="left:-382.00px;width:400px;text-align:right;top:147.42px;font-size:3.5px;line-height:4.55px;color:#888;font-weight:normal;font-family:'Liberation Sans','Noto Sans CJK SC',sans-serif;">0</div>
<div class="t" style="left:-165.20px;width:400px;text-align:center;top:154.60px;font-size:4.0px;line-height:5.20px;color:#888;font-weight:normal;font-family:'Liberation Sans','Noto Sans CJK SC',sans-serif;transform:scaleX(0.9);transform-origin:50% 50%;">2017/01</div>
<div class="t" style="left:-144.10px;width:400px;text-align:center;top:154.60px;font-size:4.0px;line-height:5.20px;color:#888;font-weight:normal;font-family:'Liberation Sans','Noto Sans CJK SC',sans-serif;transform:scaleX(0.9);transform-origin:50% 50%;">2017/02</div>
<div class="t" style="left:-123.00px;width:400px;text-align:center;top:154.60px;font-size:4.0px;line-height:5.20px;color:#888;font-weight:normal;font-family:'Liberation Sans','Noto Sans CJK SC',sans-serif;transform:scaleX(0.9);transform-origin:50% 50%;">2017/03</div>
<div class="t" style="left:-101.90px;width:400px;text-align:center;top:154.60px;font-size:4.0px;line-height:5.20px;color:#888;font-weight:normal;font-family:'Liberation Sans','Noto Sans CJK SC',sans-serif;transform:scaleX(0.9);transform-origin:50% 50%;">2017/04</div>
<div class="t" style="left:-80.80px;width:400px;text-align:center;top:154.60px;font-size:4.0px;line-height:5.20px;color:#888;font-weight:normal;font-family:'Liberation Sans','Noto Sans CJK SC',sans-serif;transform:scaleX(0.9);transform-origin:50% 50%;">2017/05</div>
<div class="t" style="left:-59.70px;width:400px;text-align:center;top:154.60px;font-size:4.0px;line-height:5.20px;color:#888;font-weight:normal;font-family:'Liberation Sans','Noto Sans CJK SC',sans-serif;transform:scaleX(0.9);transform-origin:50% 50%;">2017/06</div>
<div class="t" style="left:-38.60px;width:400px;text-align:center;top:154.60px;font-size:4.0px;line-height:5.20px;color:#888;font-weight:normal;font-family:'Liberation Sans','Noto Sans CJK SC',sans-serif;transform:scaleX(0.9);transform-origin:50% 50%;">2017/07</div>
<div class="t" style="left:-17.50px;width:400px;text-align:center;top:154.60px;font-size:4.0px;line-height:5.20px;color:#888;font-weight:normal;font-family:'Liberation Sans','Noto Sans CJK SC',sans-serif;transform:scaleX(0.9);transform-origin:50% 50%;">2017/08</div>
<div class="t" style="left:3.60px;width:400px;text-align:center;top:154.60px;font-size:4.0px;line-height:5.20px;color:#888;font-weight:normal;font-family:'Liberation Sans','Noto Sans CJK SC',sans-serif;transform:scaleX(0.9);transform-origin:50% 50%;">2017/09</div>
<div class="t" style="left:24.70px;width:400px;text-align:center;top:154.60px;font-size:4.0px;line-height:5.20px;color:#888;font-weight:normal;font-family:'Liberation Sans','Noto Sans CJK SC',sans-serif;transform:scaleX(0.9);transform-origin:50% 50%;">2017/10</div>
<div class="t" style="left:45.80px;width:400px;text-align:center;top:154.60px;font-size:4.0px;line-height:5.20px;color:#888;font-weight:normal;font-family:'Liberation Sans','Noto Sans CJK SC',sans-serif;transform:scaleX(0.9);transform-origin:50% 50%;">2017/11</div>
<div class="t" style="left:66.90px;width:400px;text-align:center;top:154.60px;font-size:4.0px;line-height:5.20px;color:#888;font-weight:normal;font-family:'Liberation Sans','Noto Sans CJK SC',sans-serif;transform:scaleX(0.9);transform-origin:50% 50%;">2017/12</div>
<div class="t" style="left:211.80px;top:82.03px;font-size:4.1px;line-height:5.33px;color:#222;font-weight:normal;font-family:'Liberation Sans','Noto Sans CJK SC',sans-serif;transform:scaleX(0.95);transform-origin:0 50%;">2017-09</div>
<div class="t" style="left:211.80px;top:87.80px;font-size:4.0px;line-height:5.20px;color:#222;font-weight:normal;font-family:'Liberation Sans','Noto Sans CJK SC',sans-serif;transform:scaleX(0.95);transform-origin:0 50%;">贸易次数 : 256</div>
<div class="t" style="left:6.00px;top:167.34px;font-size:4.4px;line-height:5.72px;color:#333;font-weight:normal;font-family:'Liberation Sans','Noto Sans CJK SC',sans-serif;">最近10笔贸易记录</div>
<div class="t" style="left:-175.00px;width:400px;text-align:center;top:177.53px;font-size:3.5px;line-height:4.55px;color:#555;font-weight:normal;font-family:'Liberation Sans','Noto Sans CJK SC',sans-serif;">时间</div>
<div class="t" style="left:-123.00px;width:400px;text-align:center;top:177.53px;font-size:3.5px;line-height:4.55px;color:#555;font-weight:normal;font-family:'Liberation Sans','Noto Sans CJK SC',sans-serif;">采购商</div>
<div class="t" style="left:-78.00px;width:400px;text-align:center;top:177.53px;font-size:3.5px;line-height:4.55px;color:#555;font-weight:normal;font-family:'Liberation Sans','Noto Sans CJK SC',sans-serif;">重量</div>
<div class="t" style="left:-38.00px;width:400px;text-align:center;top:177.53px;font-size:3.5px;line-height:4.55px;color:#555;font-weight:normal;font-family:'Liberation Sans','Noto Sans CJK SC',sans-serif;">件数</div>
<div class="t" style="left:-4.40px;width:400px;text-align:center;top:177.53px;font-size:3.5px;line-height:4.55px;color:#555;font-weight:normal;font-family:'Liberation Sans','Noto Sans CJK SC',sans-serif;">20尺柜</div>
<div class="t" style="left:30.80px;width:400px;text-align:center;top:177.53px;font-size:3.5px;line-height:4.55px;color:#555;font-weight:normal;font-family:'Liberation Sans','Noto Sans CJK SC',sans-serif;">目的国</div>
<div class="t" style="left:73.00px;width:400px;text-align:center;top:177.53px;font-size:3.5px;line-height:4.55px;color:#555;font-weight:normal;font-family:'Liberation Sans','Noto Sans CJK SC',sans-serif;">产品描述</div>
<div class="t" style="left:-173.50px;width:400px;text-align:center;top:188.06px;font-size:3.9px;line-height:5.07px;color:#888;font-weight:normal;font-family:'Liberation Sans','Noto Sans CJK SC',sans-serif;transform:scaleX(0.95);transform-origin:50% 50%;">2017-02-30</div>
<div class="t" style="left:-122.30px;width:400px;text-align:center;top:188.06px;font-size:3.9px;line-height:5.07px;color:#888;font-weight:normal;font-family:'Liberation Sans','Noto Sans CJK SC',sans-serif;transform:scaleX(0.95);transform-origin:50% 50%;">LA GALVANINA SPA</div>
<div class="t" style="left:119.80px;top:188.06px;font-size:3.9px;line-height:5.07px;color:#888;font-weight:normal;font-family:'Liberation Sans','Noto Sans CJK SC',sans-serif;transform:scaleX(0.95);transform-origin:0 50%;">398020</div>
<div class="t" style="left:159.20px;top:188.06px;font-size:3.9px;line-height:5.07px;color:#5b8fc0;font-weight:normal;font-family:'Liberation Sans','Noto Sans CJK SC',sans-serif;transform:scaleX(0.95);transform-origin:0 50%;">367</div>
<div class="t" style="left:189.90px;top:188.06px;font-size:3.9px;line-height:5.07px;color:#888;font-weight:normal;font-family:'Liberation Sans','Noto Sans CJK SC',sans-serif;transform:scaleX(0.95);transform-origin:0 50%;">1584</div>
<div class="t" style="left:225.70px;top:188.06px;font-size:3.9px;line-height:5.07px;color:#888;font-weight:normal;font-family:'Liberation Sans','Noto Sans CJK SC',sans-serif;transform:scaleX(0.95);transform-origin:0 50%;">Italy</div>
<div class="t" style="left:74.20px;width:400px;text-align:center;top:188.06px;font-size:3.9px;line-height:5.07px;color:#888;font-weight:normal;font-family:'Liberation Sans','Noto Sans CJK SC',sans-serif;transform:scaleX(0.95);transform-origin:50% 50%;">DOLLMB185/3...</div>
<div class="t" style="left:-173.50px;width:400px;text-align:center;top:198.94px;font-size:3.9px;line-height:5.07px;color:#888;font-weight:normal;font-family:'Liberation Sans','Noto Sans CJK SC',sans-serif;transform:scaleX(0.95);transform-origin:50% 50%;">2017-02-30</div>
<div class="t" style="left:-122.30px;width:400px;text-align:center;top:198.94px;font-size:3.9px;line-height:5.07px;color:#888;font-weight:normal;font-family:'Liberation Sans','Noto Sans CJK SC',sans-serif;transform:scaleX(0.95);transform-origin:50% 50%;">LA GALVANINA SPA</div>
<div class="t" style="left:119.80px;top:198.94px;font-size:3.9px;line-height:5.07px;color:#888;font-weight:normal;font-family:'Liberation Sans','Noto Sans CJK SC',sans-serif;transform:scaleX(0.95);transform-origin:0 50%;">2255434</div>
<div class="t" style="left:159.20px;top:198.94px;font-size:3.9px;line-height:5.07px;color:#5b8fc0;font-weight:normal;font-family:'Liberation Sans','Noto Sans CJK SC',sans-serif;transform:scaleX(0.95);transform-origin:0 50%;">334</div>
<div class="t" style="left:189.90px;top:198.94px;font-size:3.9px;line-height:5.07px;color:#888;font-weight:normal;font-family:'Liberation Sans','Noto Sans CJK SC',sans-serif;transform:scaleX(0.95);transform-origin:0 50%;">2323</div>
<div class="t" style="left:225.70px;top:198.94px;font-size:3.9px;line-height:5.07px;color:#888;font-weight:normal;font-family:'Liberation Sans','Noto Sans CJK SC',sans-serif;transform:scaleX(0.95);transform-origin:0 50%;">Italy</div>
<div class="t" style="left:74.20px;width:400px;text-align:center;top:198.94px;font-size:3.9px;line-height:5.07px;color:#888;font-weight:normal;font-family:'Liberation Sans','Noto Sans CJK SC',sans-serif;transform:scaleX(0.95);transform-origin:50% 50%;">DOLLMB185/3...</div>
<div class="t" style="left:-173.50px;width:400px;text-align:center;top:209.81px;font-size:3.9px;line-height:5.07px;color:#888;font-weight:normal;font-family:'Liberation Sans','Noto Sans CJK SC',sans-serif;transform:scaleX(0.95);transform-origin:50% 50%;">2017-02-30</div>
<div class="t" style="left:-122.30px;width:400px;text-align:center;top:209.81px;font-size:3.9px;line-height:5.07px;color:#888;font-weight:normal;font-family:'Liberation Sans','Noto Sans CJK SC',sans-serif;transform:scaleX(0.95);transform-origin:50% 50%;">LA GALVANINA SPA</div>
<div class="t" style="left:119.80px;top:209.81px;font-size:3.9px;line-height:5.07px;color:#888;font-weight:normal;font-family:'Liberation Sans','Noto Sans CJK SC',sans-serif;transform:scaleX(0.95);transform-origin:0 50%;">505</div>
<div class="t" style="left:159.20px;top:209.81px;font-size:3.9px;line-height:5.07px;color:#5b8fc0;font-weight:normal;font-family:'Liberation Sans','Noto Sans CJK SC',sans-serif;transform:scaleX(0.95);transform-origin:0 50%;">334</div>
<div class="t" style="left:189.90px;top:209.81px;font-size:3.9px;line-height:5.07px;color:#888;font-weight:normal;font-family:'Liberation Sans','Noto Sans CJK SC',sans-serif;transform:scaleX(0.95);transform-origin:0 50%;">2132</div>
<div class="t" style="left:225.70px;top:209.81px;font-size:3.9px;line-height:5.07px;color:#888;font-weight:normal;font-family:'Liberation Sans','Noto Sans CJK SC',sans-serif;transform:scaleX(0.95);transform-origin:0 50%;">Italy</div>
<div class="t" style="left:74.20px;width:400px;text-align:center;top:209.81px;font-size:3.9px;line-height:5.07px;color:#888;font-weight:normal;font-family:'Liberation Sans','Noto Sans CJK SC',sans-serif;transform:scaleX(0.95);transform-origin:50% 50%;">DOLLMB185/3...</div>
<div class="t" style="left:-173.50px;width:400px;text-align:center;top:220.68px;font-size:3.9px;line-height:5.07px;color:#888;font-weight:normal;font-family:'Liberation Sans','Noto Sans CJK SC',sans-serif;transform:scaleX(0.95);transform-origin:50% 50%;">2017-02-30</div>
<div class="t" style="left:-122.30px;width:400px;text-align:center;top:220.68px;font-size:3.9px;line-height:5.07px;color:#888;font-weight:normal;font-family:'Liberation Sans','Noto Sans CJK SC',sans-serif;transform:scaleX(0.95);transform-origin:50% 50%;">LA GALVANINA SPA</div>
<div class="t" style="left:119.80px;top:220.68px;font-size:3.9px;line-height:5.07px;color:#888;font-weight:normal;font-family:'Liberation Sans','Noto Sans CJK SC',sans-serif;transform:scaleX(0.95);transform-origin:0 50%;">35354</div>
<div class="t" style="left:159.20px;top:220.68px;font-size:3.9px;line-height:5.07px;color:#5b8fc0;font-weight:normal;font-family:'Liberation Sans','Noto Sans CJK SC',sans-serif;transform:scaleX(0.95);transform-origin:0 50%;">268</div>
<div class="t" style="left:189.90px;top:220.68px;font-size:3.9px;line-height:5.07px;color:#888;font-weight:normal;font-family:'Liberation Sans','Noto Sans CJK SC',sans-serif;transform:scaleX(0.95);transform-origin:0 50%;">2120</div>
<div class="t" style="left:225.70px;top:220.68px;font-size:3.9px;line-height:5.07px;color:#888;font-weight:normal;font-family:'Liberation Sans','Noto Sans CJK SC',sans-serif;transform:scaleX(0.95);transform-origin:0 50%;">Italy</div>
<div class="t" style="left:74.20px;width:400px;text-align:center;top:220.68px;font-size:3.9px;line-height:5.07px;color:#888;font-weight:normal;font-family:'Liberation Sans','Noto Sans CJK SC',sans-serif;transform:scaleX(0.95);transform-origin:50% 50%;">DOLLMB185/3...</div>
<div class="t" style="left:-173.50px;width:400px;text-align:center;top:231.54px;font-size:3.9px;line-height:5.07px;color:#888;font-weight:normal;font-family:'Liberation Sans','Noto Sans CJK SC',sans-serif;transform:scaleX(0.95);transform-origin:50% 50%;">2017-02-30</div>
<div class="t" style="left:-122.30px;width:400px;text-align:center;top:231.54px;font-size:3.9px;line-height:5.07px;color:#888;font-weight:normal;font-family:'Liberation Sans','Noto Sans CJK SC',sans-serif;transform:scaleX(0.95);transform-origin:50% 50%;">LA GALVANINA SPA</div>
<div class="t" style="left:119.80px;top:231.54px;font-size:3.9px;line-height:5.07px;color:#888;font-weight:normal;font-family:'Liberation Sans','Noto Sans CJK SC',sans-serif;transform:scaleX(0.95);transform-origin:0 50%;">215103</div>
<div class="t" style="left:159.20px;top:231.54px;font-size:3.9px;line-height:5.07px;color:#5b8fc0;font-weight:normal;font-family:'Liberation Sans','Noto Sans CJK SC',sans-serif;transform:scaleX(0.95);transform-origin:0 50%;">265</div>
<div class="t" style="left:189.90px;top:231.54px;font-size:3.9px;line-height:5.07px;color:#888;font-weight:normal;font-family:'Liberation Sans','Noto Sans CJK SC',sans-serif;transform:scaleX(0.95);transform-origin:0 50%;">1983</div>
<div class="t" style="left:225.70px;top:231.54px;font-size:3.9px;line-height:5.07px;color:#888;font-weight:normal;font-family:'Liberation Sans','Noto Sans CJK SC',sans-serif;transform:scaleX(0.95);transform-origin:0 50%;">Italy</div>
<div class="t" style="left:74.20px;width:400px;text-align:center;top:231.54px;font-size:3.9px;line-height:5.07px;color:#888;font-weight:normal;font-family:'Liberation Sans','Noto Sans CJK SC',sans-serif;transform:scaleX(0.95);transform-origin:50% 50%;">DOLLMB185/3...</div>
<div class="t" style="left:-173.50px;width:400px;text-align:center;top:242.41px;font-size:3.9px;line-height:5.07px;color:#888;font-weight:normal;font-family:'Liberation Sans','Noto Sans CJK SC',sans-serif;transform:scaleX(0.95);transform-origin:50% 50%;">2017-02-30</div>
<div class="t" style="left:-122.30px;width:400px;text-align:center;top:242.41px;font-size:3.9px;line-height:5.07px;color:#888;font-weight:normal;font-family:'Liberation Sans','Noto Sans CJK SC',sans-serif;transform:scaleX(0.95);transform-origin:50% 50%;">LA GALVANINA SPA</div>
<div class="t" style="left:119.80px;top:242.41px;font-size:3.9px;line-height:5.07px;color:#888;font-weight:normal;font-family:'Liberation Sans','Noto Sans CJK SC',sans-serif;transform:scaleX(0.95);transform-origin:0 50%;">32666</div>
<div class="t" style="left:159.20px;top:242.41px;font-size:3.9px;line-height:5.07px;color:#5b8fc0;font-weight:normal;font-family:'Liberation Sans','Noto Sans CJK SC',sans-serif;transform:scaleX(0.95);transform-origin:0 50%;">246</div>
<div class="t" style="left:189.90px;top:242.41px;font-size:3.9px;line-height:5.07px;color:#888;font-weight:normal;font-family:'Liberation Sans','Noto Sans CJK SC',sans-serif;transform:scaleX(0.95);transform-origin:0 50%;">1987</div>
<div class="t" style="left:225.70px;top:242.41px;font-size:3.9px;line-height:5.07px;color:#888;font-weight:normal;font-family:'Liberation Sans','Noto Sans CJK SC',sans-serif;transform:scaleX(0.95);transform-origin:0 50%;">Italy</div>
<div class="t" style="left:74.20px;width:400px;text-align:center;top:242.41px;font-size:3.9px;line-height:5.07px;color:#888;font-weight:normal;font-family:'Liberation Sans','Noto Sans CJK SC',sans-serif;transform:scaleX(0.95);transform-origin:50% 50%;">DOLLMB185/3...</div>
<div class="t" style="left:-173.50px;width:400px;text-align:center;top:253.28px;font-size:3.9px;line-height:5.07px;color:#888;font-weight:normal;font-family:'Liberation Sans','Noto Sans CJK SC',sans-serif;transform:scaleX(0.95);transform-origin:50% 50%;">2017-02-30</div>
<div class="t" style="left:-122.30px;width:400px;text-align:center;top:253.28px;font-size:3.9px;line-height:5.07px;color:#888;font-weight:normal;font-family:'Liberation Sans','Noto Sans CJK SC',sans-serif;transform:scaleX(0.95);transform-origin:50% 50%;">LA GALVANINA SPA</div>
<div class="t" style="left:119.80px;top:253.28px;font-size:3.9px;line-height:5.07px;color:#888;font-weight:normal;font-family:'Liberation Sans','Noto Sans CJK SC',sans-serif;transform:scaleX(0.95);transform-origin:0 50%;">25252</div>
<div class="t" style="left:159.20px;top:253.28px;font-size:3.9px;line-height:5.07px;color:#5b8fc0;font-weight:normal;font-family:'Liberation Sans','Noto Sans CJK SC',sans-serif;transform:scaleX(0.95);transform-origin:0 50%;">216</div>
<div class="t" style="left:189.90px;top:253.28px;font-size:3.9px;line-height:5.07px;color:#888;font-weight:normal;font-family:'Liberation Sans','Noto Sans CJK SC',sans-serif;transform:scaleX(0.95);transform-origin:0 50%;">1270</div>
<div class="t" style="left:225.70px;top:253.28px;font-size:3.9px;line-height:5.07px;color:#888;font-weight:normal;font-family:'Liberation Sans','Noto Sans CJK SC',sans-serif;transform:scaleX(0.95);transform-origin:0 50%;">Italy</div>
<div class="t" style="left:74.20px;width:400px;text-align:center;top:253.28px;font-size:3.9px;line-height:5.07px;color:#888;font-weight:normal;font-family:'Liberation Sans','Noto Sans CJK SC',sans-serif;transform:scaleX(0.95);transform-origin:50% 50%;">DOLLMB185/3...</div>
<div class="t" style="left:-173.50px;width:400px;text-align:center;top:264.15px;font-size:3.9px;line-height:5.07px;color:#888;font-weight:normal;font-family:'Liberation Sans','Noto Sans CJK SC',sans-serif;transform:scaleX(0.95);transform-origin:50% 50%;">2017-02-30</div>
<div class="t" style="left:-122.30px;width:400px;text-align:center;top:264.15px;font-size:3.9px;line-height:5.07px;color:#888;font-weight:normal;font-family:'Liberation Sans','Noto Sans CJK SC',sans-serif;transform:scaleX(0.95);transform-origin:50% 50%;">LA GALVANINA SPA</div>
<div class="t" style="left:119.80px;top:264.15px;font-size:3.9px;line-height:5.07px;color:#888;font-weight:normal;font-family:'Liberation Sans','Noto Sans CJK SC',sans-serif;transform:scaleX(0.95);transform-origin:0 50%;">50566</div>
<div class="t" style="left:159.20px;top:264.15px;font-size:3.9px;line-height:5.07px;color:#5b8fc0;font-weight:normal;font-family:'Liberation Sans','Noto Sans CJK SC',sans-serif;transform:scaleX(0.95);transform-origin:0 50%;">205</div>
<div class="t" style="left:189.90px;top:264.15px;font-size:3.9px;line-height:5.07px;color:#888;font-weight:normal;font-family:'Liberation Sans','Noto Sans CJK SC',sans-serif;transform:scaleX(0.95);transform-origin:0 50%;">1097</div>
<div class="t" style="left:225.70px;top:264.15px;font-size:3.9px;line-height:5.07px;color:#888;font-weight:normal;font-family:'Liberation Sans','Noto Sans CJK SC',sans-serif;transform:scaleX(0.95);transform-origin:0 50%;">Italy</div>
<div class="t" style="left:74.20px;width:400px;text-align:center;top:264.15px;font-size:3.9px;line-height:5.07px;color:#888;font-weight:normal;font-family:'Liberation Sans','Noto Sans CJK SC',sans-serif;transform:scaleX(0.95);transform-origin:50% 50%;">DOLLMB185/3...</div>
<div class="t" style="left:-173.50px;width:400px;text-align:center;top:275.02px;font-size:3.9px;line-height:5.07px;color:#888;font-weight:normal;font-family:'Liberation Sans','Noto Sans CJK SC',sans-serif;transform:scaleX(0.95);transform-origin:50% 50%;">2017-02-30</div>
<div class="t" style="left:-122.30px;width:400px;text-align:center;top:275.02px;font-size:3.9px;line-height:5.07px;color:#888;font-weight:normal;font-family:'Liberation Sans','Noto Sans CJK SC',sans-serif;transform:scaleX(0.95);transform-origin:50% 50%;">LA GALVANINA SPA</div>
<div class="t" style="left:119.80px;top:275.02px;font-size:3.9px;line-height:5.07px;color:#888;font-weight:normal;font-family:'Liberation Sans','Noto Sans CJK SC',sans-serif;transform:scaleX(0.95);transform-origin:0 50%;">55315</div>
<div class="t" style="left:159.20px;top:275.02px;font-size:3.9px;line-height:5.07px;color:#5b8fc0;font-weight:normal;font-family:'Liberation Sans','Noto Sans CJK SC',sans-serif;transform:scaleX(0.95);transform-origin:0 50%;">163</div>
<div class="t" style="left:189.90px;top:275.02px;font-size:3.9px;line-height:5.07px;color:#888;font-weight:normal;font-family:'Liberation Sans','Noto Sans CJK SC',sans-serif;transform:scaleX(0.95);transform-origin:0 50%;">978</div>
<div class="t" style="left:225.70px;top:275.02px;font-size:3.9px;line-height:5.07px;color:#888;font-weight:normal;font-family:'Liberation Sans','Noto Sans CJK SC',sans-serif;transform:scaleX(0.95);transform-origin:0 50%;">Italy</div>
<div class="t" style="left:74.20px;width:400px;text-align:center;top:275.02px;font-size:3.9px;line-height:5.07px;color:#888;font-weight:normal;font-family:'Liberation Sans','Noto Sans CJK SC',sans-serif;transform:scaleX(0.95);transform-origin:50% 50%;">DOLLMB185/3...</div>
<div class="t" style="left:-173.50px;width:400px;text-align:center;top:285.89px;font-size:3.9px;line-height:5.07px;color:#888;font-weight:normal;font-family:'Liberation Sans','Noto Sans CJK SC',sans-serif;transform:scaleX(0.95);transform-origin:50% 50%;">2017-02-30</div>
<div class="t" style="left:-122.30px;width:400px;text-align:center;top:285.89px;font-size:3.9px;line-height:5.07px;color:#888;font-weight:normal;font-family:'Liberation Sans','Noto Sans CJK SC',sans-serif;transform:scaleX(0.95);transform-origin:50% 50%;">LA GALVANINA SPA</div>
<div class="t" style="left:119.80px;top:285.89px;font-size:3.9px;line-height:5.07px;color:#888;font-weight:normal;font-family:'Liberation Sans','Noto Sans CJK SC',sans-serif;transform:scaleX(0.95);transform-origin:0 50%;">55555</div>
<div class="t" style="left:159.20px;top:285.89px;font-size:3.9px;line-height:5.07px;color:#5b8fc0;font-weight:normal;font-family:'Liberation Sans','Noto Sans CJK SC',sans-serif;transform:scaleX(0.95);transform-origin:0 50%;">100</div>
<div class="t" style="left:189.90px;top:285.89px;font-size:3.9px;line-height:5.07px;color:#888;font-weight:normal;font-family:'Liberation Sans','Noto Sans CJK SC',sans-serif;transform:scaleX(0.95);transform-origin:0 50%;">259</div>
<div class="t" style="left:225.70px;top:285.89px;font-size:3.9px;line-height:5.07px;color:#888;font-weight:normal;font-family:'Liberation Sans','Noto Sans CJK SC',sans-serif;transform:scaleX(0.95);transform-origin:0 50%;">Italy</div>
<div class="t" style="left:74.20px;width:400px;text-align:center;top:285.89px;font-size:3.9px;line-height:5.07px;color:#888;font-weight:normal;font-family:'Liberation Sans','Noto Sans CJK SC',sans-serif;transform:scaleX(0.95);transform-origin:50% 50%;">DOLLMB185/3...</div></div>
<div class="t" style="left:310.70px;top:1.98px;font-size:4.5px;line-height:5.85px;color:#333;font-weight:normal;font-family:'Liberation Sans','Noto Sans CJK SC',sans-serif;">国际市场分析</div>
<div class="t" style="left:589.20px;top:2.73px;font-size:3.8px;line-height:4.94px;color:#4aa3e0;font-weight:normal;font-family:'Liberation Sans','Noto Sans CJK SC',sans-serif;">详情</div>
<div class="t" style="left:300.00px;top:21.47px;font-size:4.2px;line-height:5.46px;color:#333;font-weight:normal;font-family:'Liberation Sans','Noto Sans CJK SC',sans-serif;">地区分布</div>
<div class="t" style="left:300.90px;top:175.07px;font-size:4.2px;line-height:5.46px;color:#333;font-weight:normal;font-family:'Liberation Sans','Noto Sans CJK SC',sans-serif;">占比分析</div>
<div class="t" style="left:414.60px;top:212.10px;font-size:4.0px;line-height:5.20px;color:#777;font-weight:normal;font-family:'Liberation Sans','Noto Sans CJK SC',sans-serif;transform:scaleX(0.95);transform-origin:0 50%;">China (Mainland)</div>
<div class="t" style="left:408.20px;top:273.90px;font-size:4.0px;line-height:5.20px;color:#777;font-weight:normal;font-family:'Liberation Sans','Noto Sans CJK SC',sans-serif;transform:scaleX(0.95);transform-origin:0 50%;">Brazil</div>
<div class="t" style="left:-71.50px;width:400px;text-align:right;top:263.20px;font-size:4.0px;line-height:5.20px;color:#777;font-weight:normal;font-family:'Liberation Sans','Noto Sans CJK SC',sans-serif;transform:scaleX(0.95);transform-origin:100% 50%;">United States</div>
<div class="t" style="left:-77.40px;width:400px;text-align:right;top:220.30px;font-size:4.0px;line-height:5.20px;color:#777;font-weight:normal;font-family:'Liberation Sans','Noto Sans CJK SC',sans-serif;transform:scaleX(0.95);transform-origin:100% 50%;">South Korea</div>
<div class="t" style="left:-66.00px;width:400px;text-align:right;top:203.40px;font-size:4.0px;line-height:5.20px;color:#777;font-weight:normal;font-family:'Liberation Sans','Noto Sans CJK SC',sans-serif;transform:scaleX(0.95);transform-origin:100% 50%;">Hong Kong</div>
<div class="t" style="left:-53.00px;width:400px;text-align:right;top:188.50px;font-size:4.0px;line-height:5.20px;color:#777;font-weight:normal;font-family:'Liberation Sans','Noto Sans CJK SC',sans-serif;transform:scaleX(0.95);transform-origin:100% 50%;">Oman</div>
<div class="t" style="left:381.00px;top:187.90px;font-size:4.0px;line-height:5.20px;color:#777;font-weight:normal;font-family:'Liberation Sans','Noto Sans CJK SC',sans-serif;transform:scaleX(0.95);transform-origin:0 50%;">Panama</div>
<div class="t" style="left:111.60px;width:400px;text-align:center;top:225.40px;font-size:4.0px;line-height:5.20px;color:#555;font-weight:bold;font-family:'Liberation Sans','Noto Sans CJK SC',sans-serif;">7%</div>
<div class="t" style="left:123.20px;width:400px;text-align:center;top:208.00px;font-size:4.0px;line-height:5.20px;color:#555;font-weight:bold;font-family:'Liberation Sans','Noto Sans CJK SC',sans-serif;">5%</div>
<div class="t" style="left:474.60px;top:174.64px;font-size:4.7px;line-height:6.11px;color:#555;font-weight:bold;font-family:'Liberation Sans','Noto Sans CJK SC',sans-serif;">TOP 10</div>
<div class="t" style="left:474.60px;top:191.63px;font-size:4.1px;line-height:5.33px;color:#777;font-weight:normal;font-family:'Liberation Sans','Noto Sans CJK SC',sans-serif;transform:scaleX(0.97);transform-origin:0 50%;"><b style="color:#555">1.</b> China (Mainland)</div>
<div class="t" style="left:474.60px;top:201.06px;font-size:4.1px;line-height:5.33px;color:#777;font-weight:normal;font-family:'Liberation Sans','Noto Sans CJK SC',sans-serif;transform:scaleX(0.97);transform-origin:0 50%;"><b style="color:#555">2.</b> Brazil</div>
<div class="t" style="left:474.60px;top:210.49px;font-size:4.1px;line-height:5.33px;color:#777;font-weight:normal;font-family:'Liberation Sans','Noto Sans CJK SC',sans-serif;transform:scaleX(0.97);transform-origin:0 50%;"><b style="color:#555">3.</b> United States</div>
<div class="t" style="left:474.60px;top:219.92px;font-size:4.1px;line-height:5.33px;color:#777;font-weight:normal;font-family:'Liberation Sans','Noto Sans CJK SC',sans-serif;transform:scaleX(0.97);transform-origin:0 50%;"><b style="color:#555">4.</b> South Korea</div>
<div class="t" style="left:474.60px;top:229.35px;font-size:4.1px;line-height:5.33px;color:#777;font-weight:normal;font-family:'Liberation Sans','Noto Sans CJK SC',sans-serif;transform:scaleX(0.97);transform-origin:0 50%;"><b style="color:#555">5.</b> Hong Kong</div>
<div class="t" style="left:474.60px;top:238.78px;font-size:4.1px;line-height:5.33px;color:#777;font-weight:normal;font-family:'Liberation Sans','Noto Sans CJK SC',sans-serif;transform:scaleX(0.97);transform-origin:0 50%;"><b style="color:#555">6.</b> Oman</div>
<div class="t" style="left:474.60px;top:248.22px;font-size:4.1px;line-height:5.33px;color:#777;font-weight:normal;font-family:'Liberation Sans','Noto Sans CJK SC',sans-serif;transform:scaleX(0.97);transform-origin:0 50%;"><b style="color:#555">7.</b> Panama</div>
<div class="t" style="left:474.60px;top:257.64px;font-size:4.1px;line-height:5.33px;color:#777;font-weight:normal;font-family:'Liberation Sans','Noto Sans CJK SC',sans-serif;transform:scaleX(0.97);transform-origin:0 50%;"><b style="color:#555">8.</b> Jamaica</div>
<div class="t" style="left:474.60px;top:267.07px;font-size:4.1px;line-height:5.33px;color:#777;font-weight:normal;font-family:'Liberation Sans','Noto Sans CJK SC',sans-serif;transform:scaleX(0.97);transform-origin:0 50%;"><b style="color:#555">9.</b> Vietnam</div>
<div class="t" style="left:474.60px;top:276.50px;font-size:4.1px;line-height:5.33px;color:#777;font-weight:normal;font-family:'Liberation Sans','Noto Sans CJK SC',sans-serif;transform:scaleX(0.97);transform-origin:0 50%;"><b style="color:#555">10.</b> Thailand</div>
<div class="t" style="left:27.60px;top:320.28px;font-size:8.5px;line-height:11.05px;color:#222;font-weight:500;font-family:'Liberation Sans','Noto Sans CJK SC',sans-serif;">采购商分析</div>
<div class="t" style="left:501.80px;top:321.85px;font-size:7.0px;line-height:9.10px;color:#666;font-weight:normal;font-family:'Liberation Sans','Noto Sans CJK SC',sans-serif;">全部目的国</div>
<div class="t" style="left:559.30px;top:321.72px;font-size:7.2px;line-height:9.36px;color:#3a9ad9;font-weight:normal;font-family:'Liberation Sans','Noto Sans CJK SC',sans-serif;">详情</div>
<div class="t" style="left:35.80px;width:400px;text-align:center;top:358.85px;font-size:7.0px;line-height:9.10px;color:#666;font-weight:normal;font-family:'Liberation Sans','Noto Sans CJK SC',sans-serif;">贸易次数</div>
<div class="t" style="left:79.20px;width:400px;text-align:center;top:358.85px;font-size:7.0px;line-height:9.10px;color:#fff;font-weight:normal;font-family:'Liberation Sans','Noto Sans CJK SC',sans-serif;">重量</div>
<div class="t" style="left:121.00px;width:400px;text-align:center;top:358.85px;font-size:7.0px;line-height:9.10px;color:#666;font-weight:normal;font-family:'Liberation Sans','Noto Sans CJK SC',sans-serif;">件数</div>
<div class="t" style="left:161.20px;width:400px;text-align:center;top:358.85px;font-size:7.0px;line-height:9.10px;color:#666;font-weight:normal;font-family:'Liberation Sans','Noto Sans CJK SC',sans-serif;">20尺柜</div>
<div class="t" style="left:-48.50px;width:400px;text-align:center;top:364.78px;font-size:8.5px;line-height:11.05px;color:#333;font-weight:bold;font-family:'Liberation Sans','Noto Sans CJK SC',sans-serif;">占比分析</div>
<div class="t" style="left:234.50px;top:427.54px;font-size:8.4px;line-height:10.92px;color:#555;font-weight:normal;font-family:'Liberation Sans','Noto Sans CJK SC',sans-serif;transform:scaleX(0.82);transform-origin:0 50%;">LL CORPORA</div>
<div class="t" style="left:58.50px;width:400px;text-align:center;top:439.67px;font-size:8.2px;line-height:10.66px;color:#4a4a4a;font-weight:bold;font-family:'Liberation Sans','Noto Sans CJK SC',sans-serif;transform:scaleX(0.9);transform-origin:50% 50%;">33%</div>
<div class="t" style="left:225.00px;top:546.34px;font-size:8.4px;line-height:10.92px;color:#555;font-weight:normal;font-family:'Liberation Sans','Noto Sans CJK SC',sans-serif;transform:scaleX(0.82);transform-origin:0 50%;">OMAN PHAR</div>
<div class="t" style="left:49.00px;width:400px;text-align:center;top:559.27px;font-size:8.2px;line-height:10.66px;color:#4a4a4a;font-weight:bold;font-family:'Liberation Sans','Noto Sans CJK SC',sans-serif;transform:scaleX(0.9);transform-origin:50% 50%;">28%</div>
<div class="t" style="left:-329.30px;width:400px;text-align:right;top:528.04px;font-size:8.4px;line-height:10.92px;color:#555;font-weight:normal;font-family:'Liberation Sans','Noto Sans CJK SC',sans-serif;transform:scaleX(0.82);transform-origin:100% 50%;">VERTELLUS I</div>
<div class="t" style="left:-149.30px;width:400px;text-align:center;top:538.97px;font-size:8.2px;line-height:10.66px;color:#4a4a4a;font-weight:bold;font-family:'Liberation Sans','Noto Sans CJK SC',sans-serif;transform:scaleX(0.9);transform-origin:50% 50%;">17%</div>
<div class="t" style="left:-333.40px;width:400px;text-align:right;top:443.44px;font-size:8.4px;line-height:10.92px;color:#555;font-weight:normal;font-family:'Liberation Sans','Noto Sans CJK SC',sans-serif;transform:scaleX(0.82);transform-origin:100% 50%;">TRANSWORL</div>
<div class="t" style="left:-157.50px;width:400px;text-align:center;top:455.57px;font-size:8.2px;line-height:10.66px;color:#4a4a4a;font-weight:bold;font-family:'Liberation Sans','Noto Sans CJK SC',sans-serif;transform:scaleX(0.9);transform-origin:50% 50%;">7%</div>
<div class="t" style="left:-313.30px;width:400px;text-align:right;top:412.74px;font-size:8.4px;line-height:10.92px;color:#555;font-weight:normal;font-family:'Liberation Sans','Noto Sans CJK SC',sans-serif;transform:scaleX(0.82);transform-origin:100% 50%;">COLOPLAST</div>
<div class="t" style="left:-135.70px;width:400px;text-align:center;top:424.87px;font-size:8.2px;line-height:10.66px;color:#4a4a4a;font-weight:bold;font-family:'Liberation Sans','Noto Sans CJK SC',sans-serif;transform:scaleX(0.9);transform-origin:50% 50%;">5%</div>
<div class="t" style="left:-293.10px;width:400px;text-align:right;top:389.44px;font-size:8.4px;line-height:10.92px;color:#555;font-weight:normal;font-family:'Liberation Sans','Noto Sans CJK SC',sans-serif;transform:scaleX(0.82);transform-origin:100% 50%;">PARKER-MIGL</div>
<div class="t" style="left:-118.50px;width:400px;text-align:center;top:401.57px;font-size:8.2px;line-height:10.66px;color:#4a4a4a;font-weight:bold;font-family:'Liberation Sans','Noto Sans CJK SC',sans-serif;transform:scaleX(0.9);transform-origin:50% 50%;">4%</div>
<div class="t" style="left:162.00px;top:384.64px;font-size:8.4px;line-height:10.92px;color:#555;font-weight:normal;font-family:'Liberation Sans','Noto Sans CJK SC',sans-serif;transform:scaleX(0.82);transform-origin:0 50%;">CUMMINS SC</div>
<div class="t" style="left:-14.00px;width:400px;text-align:center;top:396.57px;font-size:8.2px;line-height:10.66px;color:#4a4a4a;font-weight:bold;font-family:'Liberation Sans','Noto Sans CJK SC',sans-serif;transform:scaleX(0.9);transform-origin:50% 50%;">6%</div>
<div class="t" style="left:258.50px;width:400px;text-align:center;top:363.56px;font-size:9.6px;line-height:12.48px;color:#333;font-weight:bold;font-family:'Liberation Sans','Noto Sans CJK SC',sans-serif;transform:scaleX(0.95);transform-origin:50% 50%;">TOP 10</div>
<div class="t" style="left:347.00px;top:389.61px;font-size:8.9px;line-height:11.57px;color:#555;font-weight:normal;font-family:'Liberation Sans','Noto Sans CJK SC',sans-serif;transform:scaleX(0.79);transform-origin:0 50%;"><b style="color:#444">1.</b> LL CORPORA...</div>
<div class="t" style="left:172.60px;width:400px;text-align:right;top:390.19px;font-size:7.4px;line-height:9.62px;color:#444;font-weight:normal;font-family:'Liberation Sans','Noto Sans CJK SC',sans-serif;">26400.00</div>
<div class="t" style="left:347.00px;top:407.66px;font-size:8.9px;line-height:11.57px;color:#555;font-weight:normal;font-family:'Liberation Sans','Noto Sans CJK SC',sans-serif;transform:scaleX(0.79);transform-origin:0 50%;"><b style="color:#444">2.</b> OMAN PHAR...</div>
<div class="t" style="left:172.60px;width:400px;text-align:right;top:408.24px;font-size:7.4px;line-height:9.62px;color:#444;font-weight:normal;font-family:'Liberation Sans','Noto Sans CJK SC',sans-serif;">16800.00</div>
<div class="t" style="left:347.00px;top:425.71px;font-size:8.9px;line-height:11.57px;color:#555;font-weight:normal;font-family:'Liberation Sans','Noto Sans CJK SC',sans-serif;transform:scaleX(0.79);transform-origin:0 50%;"><b style="color:#444">3.</b> VERTELLUS I...</div>
<div class="t" style="left:172.60px;width:400px;text-align:right;top:426.29px;font-size:7.4px;line-height:9.62px;color:#444;font-weight:normal;font-family:'Liberation Sans','Noto Sans CJK SC',sans-serif;">9600.00</div>
<div class="t" style="left:347.00px;top:443.76px;font-size:8.9px;line-height:11.57px;color:#555;font-weight:normal;font-family:'Liberation Sans','Noto Sans CJK SC',sans-serif;transform:scaleX(0.79);transform-origin:0 50%;"><b style="color:#444">4.</b> TRANSWORL...</div>
<div class="t" style="left:172.60px;width:400px;text-align:right;top:444.34px;font-size:7.4px;line-height:9.62px;color:#444;font-weight:normal;font-family:'Liberation Sans','Noto Sans CJK SC',sans-serif;">7200.00</div>
<div class="t" style="left:347.00px;top:461.81px;font-size:8.9px;line-height:11.57px;color:#555;font-weight:normal;font-family:'Liberation Sans','Noto Sans CJK SC',sans-serif;transform:scaleX(0.79);transform-origin:0 50%;"><b style="color:#444">5.</b> TURNKEY IN...</div>
<div class="t" style="left:172.60px;width:400px;text-align:right;top:462.39px;font-size:7.4px;line-height:9.62px;color:#444;font-weight:normal;font-family:'Liberation Sans','Noto Sans CJK SC',sans-serif;">4800.00</div>
<div class="t" style="left:347.00px;top:479.86px;font-size:8.9px;line-height:11.57px;color:#555;font-weight:normal;font-family:'Liberation Sans','Noto Sans CJK SC',sans-serif;transform:scaleX(0.79);transform-origin:0 50%;"><b style="color:#444">6.</b> COLOPLAST...</div>
<div class="t" style="left:172.60px;width:400px;text-align:right;top:480.44px;font-size:7.4px;line-height:9.62px;color:#444;font-weight:normal;font-family:'Liberation Sans','Noto Sans CJK SC',sans-serif;">4800.00</div>
<div class="t" style="left:347.00px;top:497.91px;font-size:8.9px;line-height:11.57px;color:#555;font-weight:normal;font-family:'Liberation Sans','Noto Sans CJK SC',sans-serif;transform:scaleX(0.79);transform-origin:0 50%;"><b style="color:#444">7.</b> PARKER-MIGL...</div>
<div class="t" style="left:172.60px;width:400px;text-align:right;top:498.49px;font-size:7.4px;line-height:9.62px;color:#444;font-weight:normal;font-family:'Liberation Sans','Noto Sans CJK SC',sans-serif;">4000.00</div>
<div class="t" style="left:347.00px;top:515.97px;font-size:8.9px;line-height:11.57px;color:#555;font-weight:normal;font-family:'Liberation Sans','Noto Sans CJK SC',sans-serif;transform:scaleX(0.79);transform-origin:0 50%;"><b style="color:#444">8.</b> CUMMINS SC...</div>
<div class="t" style="left:172.60px;width:400px;text-align:right;top:516.54px;font-size:7.4px;line-height:9.62px;color:#444;font-weight:normal;font-family:'Liberation Sans','Noto Sans CJK SC',sans-serif;">2400.00</div>
<div class="t" style="left:347.00px;top:534.01px;font-size:8.9px;line-height:11.57px;color:#555;font-weight:normal;font-family:'Liberation Sans','Noto Sans CJK SC',sans-serif;transform:scaleX(0.79);transform-origin:0 50%;"><b style="color:#444">9.</b> VIVI-LL GUA...</div>
<div class="t" style="left:172.60px;width:400px;text-align:right;top:534.59px;font-size:7.4px;line-height:9.62px;color:#444;font-weight:normal;font-family:'Liberation Sans','Noto Sans CJK SC',sans-serif;">2400.00</div>
<div class="t" style="left:347.00px;top:552.07px;font-size:8.9px;line-height:11.57px;color:#555;font-weight:normal;font-family:'Liberation Sans','Noto Sans CJK SC',sans-serif;transform:scaleX(0.79);transform-origin:0 50%;"><b style="color:#444">10.</b> NIELSEN BAIN...</div>
<div class="t" style="left:172.60px;width:400px;text-align:right;top:552.64px;font-size:7.4px;line-height:9.62px;color:#444;font-weight:normal;font-family:'Liberation Sans','Noto Sans CJK SC',sans-serif;">1600.00</div>
<div class="t" style="left:28.50px;top:606.62px;font-size:7.5px;line-height:9.75px;color:#444;font-weight:500;font-family:'Liberation Sans','Noto Sans CJK SC',sans-serif;"><span style="color:#3a9ad9">起运港</span> | 目的港</div>
<div class="t" style="left:447.00px;top:607.40px;font-size:6.3px;line-height:8.19px;color:#666;font-weight:normal;font-family:'Liberation Sans','Noto Sans CJK SC',sans-serif;">全部目的国</div>
<div class="t" style="left:500.50px;top:607.40px;font-size:6.3px;line-height:8.19px;color:#3a9ad9;font-weight:normal;font-family:'Liberation Sans','Noto Sans CJK SC',sans-serif;">详情</div>
<div class="t" style="left:13.10px;width:400px;text-align:center;top:639.46px;font-size:5.9px;line-height:7.67px;color:#fff;font-weight:normal;font-family:'Liberation Sans','Noto Sans CJK SC',sans-serif;">贸易次数</div>
<div class="t" style="left:50.40px;width:400px;text-align:center;top:639.46px;font-size:5.9px;line-height:7.67px;color:#666;font-weight:normal;font-family:'Liberation Sans','Noto Sans CJK SC',sans-serif;">重量</div>
<div class="t" style="left:88.30px;width:400px;text-align:center;top:639.46px;font-size:5.9px;line-height:7.67px;color:#666;font-weight:normal;font-family:'Liberation Sans','Noto Sans CJK SC',sans-serif;">件数</div>
<div class="t" style="left:123.80px;width:400px;text-align:center;top:639.46px;font-size:5.9px;line-height:7.67px;color:#666;font-weight:normal;font-family:'Liberation Sans','Noto Sans CJK SC',sans-serif;">20尺柜</div>
<div class="t" style="left:-303.00px;width:400px;text-align:right;top:692.10px;font-size:6.0px;line-height:7.80px;color:#777;font-weight:normal;font-family:'Liberation Sans','Noto Sans CJK SC',sans-serif;">240</div>
<div class="t" style="left:-303.00px;width:400px;text-align:right;top:724.10px;font-size:6.0px;line-height:7.80px;color:#777;font-weight:normal;font-family:'Liberation Sans','Noto Sans CJK SC',sans-serif;">160</div>
<div class="t" style="left:-303.00px;width:400px;text-align:right;top:756.10px;font-size:6.0px;line-height:7.80px;color:#777;font-weight:normal;font-family:'Liberation Sans','Noto Sans CJK SC',sans-serif;">80</div>
<div class="t" style="left:-303.00px;width:400px;text-align:right;top:787.90px;font-size:6.0px;line-height:7.80px;color:#777;font-weight:normal;font-family:'Liberation Sans','Noto Sans CJK SC',sans-serif;">0</div>
<div class="t" style="left:71.80px;top:791.20px;width:80px;text-align:right;font-size:6.4px;line-height:8px;color:#777;font-family:'Liberation Sans','Noto Sans CJK SC',sans-serif;transform-origin:50% 50%;transform:translate(-20px,0) rotate(-30deg);transform-origin:100% 50%;">Savannah...</div>
<div class="t" style="left:106.60px;top:791.20px;width:80px;text-align:right;font-size:6.4px;line-height:8px;color:#777;font-family:'Liberation Sans','Noto Sans CJK SC',sans-serif;transform-origin:50% 50%;transform:translate(-20px,0) rotate(-30deg);transform-origin:100% 50%;">Baltimore...</div>
<div class="t" style="left:141.10px;top:791.20px;width:80px;text-align:right;font-size:6.4px;line-height:8px;color:#777;font-family:'Liberation Sans','Noto Sans CJK SC',sans-serif;transform-origin:50% 50%;transform:translate(-20px,0) rotate(-30deg);transform-origin:100% 50%;">New York...</div>
<div class="t" style="left:175.60px;top:791.20px;width:80px;text-align:right;font-size:6.4px;line-height:8px;color:#777;font-family:'Liberation Sans','Noto Sans CJK SC',sans-serif;transform-origin:50% 50%;transform:translate(-20px,0) rotate(-30deg);transform-origin:100% 50%;">Los Angel...</div>
<div class="t" style="left:210.30px;top:791.20px;width:80px;text-align:right;font-size:6.4px;line-height:8px;color:#777;font-family:'Liberation Sans','Noto Sans CJK SC',sans-serif;transform-origin:50% 50%;transform:translate(-20px,0) rotate(-30deg);transform-origin:100% 50%;">Savannah...</div>
<div class="t" style="left:244.90px;top:791.20px;width:80px;text-align:right;font-size:6.4px;line-height:8px;color:#777;font-family:'Liberation Sans','Noto Sans CJK SC',sans-serif;transform-origin:50% 50%;transform:translate(-20px,0) rotate(-30deg);transform-origin:100% 50%;">Baltimore...</div>
<div class="t" style="left:279.30px;top:791.20px;width:80px;text-align:right;font-size:6.4px;line-height:8px;color:#777;font-family:'Liberation Sans','Noto Sans CJK SC',sans-serif;transform-origin:50% 50%;transform:translate(-20px,0) rotate(-30deg);transform-origin:100% 50%;">New York...</div>
<div class="t" style="left:313.50px;top:791.20px;width:80px;text-align:right;font-size:6.4px;line-height:8px;color:#777;font-family:'Liberation Sans','Noto Sans CJK SC',sans-serif;transform-origin:50% 50%;transform:translate(-20px,0) rotate(-30deg);transform-origin:100% 50%;">New York...</div>
<div class="t" style="left:348.70px;top:791.20px;width:80px;text-align:right;font-size:6.4px;line-height:8px;color:#777;font-family:'Liberation Sans','Noto Sans CJK SC',sans-serif;transform-origin:50% 50%;transform:translate(-20px,0) rotate(-30deg);transform-origin:100% 50%;">Baltimore...</div>
<div class="t" style="left:382.90px;top:791.20px;width:80px;text-align:right;font-size:6.4px;line-height:8px;color:#777;font-family:'Liberation Sans','Noto Sans CJK SC',sans-serif;transform-origin:50% 50%;transform:translate(-20px,0) rotate(-30deg);transform-origin:100% 50%;">New York...</div>
<svg class="ov" width="626" height="844" viewBox="0 0 626 844">
<path d="M65.80,43.00 C66.53,46.00 66.57,46.07 68.00,52.00 C69.43,57.93 68.60,53.13 70.10,60.80 C71.60,68.47 70.70,63.13 72.50,75.00 C74.30,86.87 73.83,84.73 75.50,96.40 C77.17,108.07 76.33,100.93 77.50,110.00 C78.67,119.07 78.50,119.07 79.00,123.60" fill="none" stroke="#ea3136" stroke-width="2.4" stroke-linecap="round" stroke-linejoin="round"/>
<path d="M345.10,12.90 C347.40,12.23 347.03,12.00 352.00,10.90 C356.97,9.80 354.67,10.33 360.00,9.60 C365.33,8.87 364.00,8.93 368.00,8.70 C372.00,8.47 370.67,8.83 372.00,8.90" fill="none" stroke="#ea3136" stroke-width="3.0" stroke-linecap="round" stroke-linejoin="round"/>
<path d="M372.00,8.90 C372.23,10.60 372.53,10.30 372.70,14.00 C372.87,17.70 373.20,15.67 372.50,20.00 C371.80,24.33 372.57,22.53 370.60,27.00 C368.63,31.47 369.80,29.40 366.60,33.40 C363.40,37.40 364.87,35.37 361.00,39.00 C357.13,42.63 358.20,41.43 355.00,44.30 C351.80,47.17 352.60,46.50 351.40,47.60" fill="none" stroke="#ea3136" stroke-width="3.0" stroke-linecap="round" stroke-linejoin="round"/>
<path d="M351.40,47.60 C353.60,47.03 353.13,47.37 358.00,45.90 C362.87,44.43 360.00,45.33 366.00,43.20 C372.00,41.07 368.67,42.03 376.00,39.50 C383.33,36.97 380.00,37.90 388.00,35.60 C396.00,33.30 391.53,34.17 400.00,32.60 C408.47,31.03 408.93,31.47 413.40,30.90" fill="none" stroke="#ea3136" stroke-width="3.0" stroke-linecap="round" stroke-linejoin="round"/>
<path d="M109.80,313.50 C111.70,313.33 111.93,313.17 115.50,313.00 C119.07,312.83 117.90,312.47 120.50,313.00 C123.10,313.53 122.07,312.77 123.30,314.60 C124.53,316.43 124.03,315.87 124.20,318.50 C124.37,321.13 124.60,320.13 123.80,322.50 C123.00,324.87 123.47,323.77 121.80,325.60 C120.13,327.43 119.23,326.70 118.80,328.00 C118.37,329.30 118.10,329.07 120.50,329.50 C122.90,329.93 119.80,329.43 126.00,329.30 C132.20,329.17 130.43,329.17 139.10,329.10 C147.77,329.03 145.87,328.87 152.00,329.10 C158.13,329.33 154.97,328.67 157.50,329.80 C160.03,330.93 159.23,329.93 159.60,332.50 C159.97,335.07 159.97,334.33 158.60,337.50 C157.23,340.67 158.27,338.83 155.50,342.00 C152.73,345.17 154.73,343.00 150.30,347.00 C145.87,351.00 144.90,351.67 142.20,354.00" fill="none" stroke="#ea3136" stroke-width="5.0" stroke-linecap="round" stroke-linejoin="round"/>
<path d="M110.70,609.00 C107.47,612.00 106.13,611.67 101.00,618.00 C95.87,624.33 98.03,620.00 95.30,628.00 C92.57,636.00 92.23,635.17 92.80,642.00 C93.37,648.83 93.60,645.50 97.00,648.50 C100.40,651.50 96.33,650.17 103.00,651.00 C109.67,651.83 107.67,651.33 117.00,651.00 C126.33,650.67 122.00,651.67 131.00,650.00 C140.00,648.33 134.17,649.00 144.00,646.00 C153.83,643.00 155.00,642.67 160.50,641.00" fill="none" stroke="#ea3136" stroke-width="3.7" stroke-linecap="round" stroke-linejoin="round"/>
<path d="M131.00,617.00 C130.67,624.67 130.83,625.67 130.00,640.00 C129.17,654.33 129.40,646.50 128.50,660.00 C127.60,673.50 127.70,673.67 127.30,680.50" fill="none" stroke="#ea3136" stroke-width="3.7" stroke-linecap="round" stroke-linejoin="round"/>
</svg>
</body></html>
